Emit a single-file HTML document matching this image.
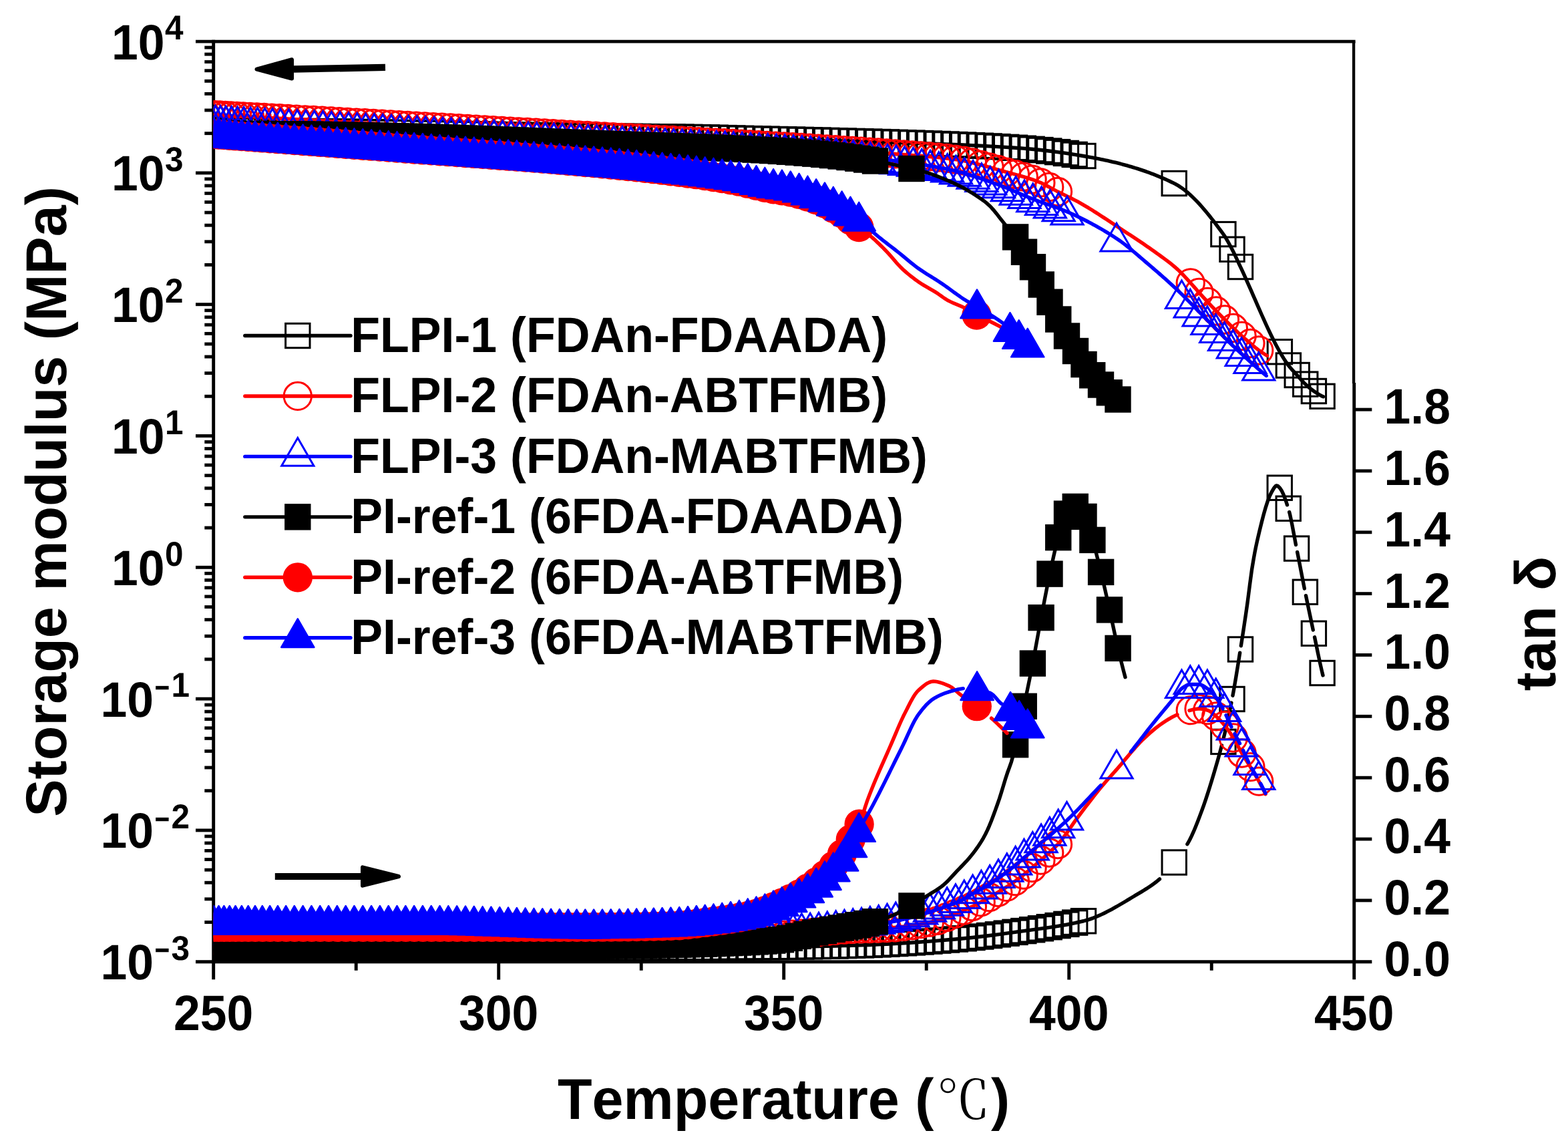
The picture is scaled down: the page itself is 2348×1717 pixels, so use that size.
<!DOCTYPE html>
<html lang="en">
<head>
<meta charset="utf-8">
<title>Storage modulus and tan δ versus temperature</title>
<style>
html,body{margin:0;padding:0;background:#ffffff;}
body{width:2348px;height:1717px;overflow:hidden;}
svg{display:block;}
</style>
</head>
<body>
<svg xmlns="http://www.w3.org/2000/svg" width="2348" height="1717" viewBox="0 0 2348 1717">
<rect width="2348" height="1717" fill="#ffffff"/>
<defs><clipPath id="pc"><rect x="319.7" y="62.1" width="1708.05" height="1377.65"/></clipPath></defs>
<g stroke="#000" stroke-width="4.9" fill="none" stroke-linecap="butt">
<path d="M319.7 59.65L319.7 1466.2"/>
<path d="M293 62.1L2029.6 62.1"/>
<path d="M293 1439.75L2054.35 1439.75"/>
<path d="M2027.1 62.1L2027.1 574" stroke-width="4.3"/>
<path d="M2027.75 573L2027.75 1466.2"/>
<path d="M306.3 199.66L319.7 199.66"/>
<path d="M306.3 165.01L319.7 165.01"/>
<path d="M306.3 140.42L319.7 140.42"/>
<path d="M306.3 121.34L319.7 121.34"/>
<path d="M306.3 105.76L319.7 105.76"/>
<path d="M306.3 92.59L319.7 92.59"/>
<path d="M306.3 81.17L319.7 81.17"/>
<path d="M306.3 71.11L319.7 71.11"/>
<path d="M293 258.91L319.7 258.91"/>
<path d="M306.3 396.47L319.7 396.47"/>
<path d="M306.3 361.81L319.7 361.81"/>
<path d="M306.3 337.22L319.7 337.22"/>
<path d="M306.3 318.15L319.7 318.15"/>
<path d="M306.3 302.57L319.7 302.57"/>
<path d="M306.3 289.39L319.7 289.39"/>
<path d="M306.3 277.98L319.7 277.98"/>
<path d="M306.3 267.91L319.7 267.91"/>
<path d="M293 455.71L319.7 455.71"/>
<path d="M306.3 593.28L319.7 593.28"/>
<path d="M306.3 558.62L319.7 558.62"/>
<path d="M306.3 534.03L319.7 534.03"/>
<path d="M306.3 514.96L319.7 514.96"/>
<path d="M306.3 499.38L319.7 499.38"/>
<path d="M306.3 486.2L319.7 486.2"/>
<path d="M306.3 474.79L319.7 474.79"/>
<path d="M306.3 464.72L319.7 464.72"/>
<path d="M293 652.52L319.7 652.52"/>
<path d="M306.3 790.08L319.7 790.08"/>
<path d="M306.3 755.43L319.7 755.43"/>
<path d="M306.3 730.84L319.7 730.84"/>
<path d="M306.3 711.77L319.7 711.77"/>
<path d="M306.3 696.18L319.7 696.18"/>
<path d="M306.3 683.01L319.7 683.01"/>
<path d="M306.3 671.59L319.7 671.59"/>
<path d="M306.3 661.53L319.7 661.53"/>
<path d="M293 849.33L319.7 849.33"/>
<path d="M306.3 986.89L319.7 986.89"/>
<path d="M306.3 952.23L319.7 952.23"/>
<path d="M306.3 927.65L319.7 927.65"/>
<path d="M306.3 908.57L319.7 908.57"/>
<path d="M306.3 892.99L319.7 892.99"/>
<path d="M306.3 879.81L319.7 879.81"/>
<path d="M306.3 868.4L319.7 868.4"/>
<path d="M306.3 858.33L319.7 858.33"/>
<path d="M293 1046.14L319.7 1046.14"/>
<path d="M306.3 1183.7L319.7 1183.7"/>
<path d="M306.3 1149.04L319.7 1149.04"/>
<path d="M306.3 1124.45L319.7 1124.45"/>
<path d="M306.3 1105.38L319.7 1105.38"/>
<path d="M306.3 1089.8L319.7 1089.8"/>
<path d="M306.3 1076.62L319.7 1076.62"/>
<path d="M306.3 1065.21L319.7 1065.21"/>
<path d="M306.3 1055.14L319.7 1055.14"/>
<path d="M293 1242.94L319.7 1242.94"/>
<path d="M306.3 1380.51L319.7 1380.51"/>
<path d="M306.3 1345.85L319.7 1345.85"/>
<path d="M306.3 1321.26L319.7 1321.26"/>
<path d="M306.3 1302.19L319.7 1302.19"/>
<path d="M306.3 1286.6L319.7 1286.6"/>
<path d="M306.3 1273.43L319.7 1273.43"/>
<path d="M306.3 1262.02L319.7 1262.02"/>
<path d="M306.3 1251.95L319.7 1251.95"/>
<path d="M533.21 1439.75L533.21 1452.75"/>
<path d="M746.71 1439.75L746.71 1466.55"/>
<path d="M960.22 1439.75L960.22 1452.75"/>
<path d="M1173.72 1439.75L1173.72 1466.55"/>
<path d="M1387.23 1439.75L1387.23 1452.75"/>
<path d="M1600.74 1439.75L1600.74 1466.55"/>
<path d="M1814.24 1439.75L1814.24 1452.75"/>
<path d="M2027.75 1347.9L2054.35 1347.9"/>
<path d="M2027.75 1256.05L2054.35 1256.05"/>
<path d="M2027.75 1164.2L2054.35 1164.2"/>
<path d="M2027.75 1072.35L2054.35 1072.35"/>
<path d="M2027.75 980.5L2054.35 980.5"/>
<path d="M2027.75 888.65L2054.35 888.65"/>
<path d="M2027.75 796.8L2054.35 796.8"/>
<path d="M2027.75 704.95L2054.35 704.95"/>
<path d="M2027.75 613.1L2054.35 613.1"/>
</g>
<g clip-path="url(#pc)">
<path d="M293.47 194.67L300.48 194.76L307.49 194.85L314.5 194.93L321.6 195.02L329.13 195.11L337.11 195.2L345.56 195.29L354.49 195.39L363.9 195.49L373.82 195.59L384.23 195.7L395.16 195.81L406.57 195.93L418.46 196.06L430.79 196.19L443.48 196.32L456.29 196.47L469.1 196.61L481.91 196.77L494.72 196.93L507.53 197.1L520.34 197.29L533.15 197.48L545.96 197.68L558.77 197.9L571.58 198.12L584.39 198.34L597.2 198.58L610.01 198.82L622.82 199.06L635.63 199.31L648.44 199.56L661.25 199.82L674.06 200.07L686.87 200.33L699.68 200.58L712.49 200.84L725.3 201.09L738.11 201.34L750.92 201.59L763.73 201.83L776.54 202.07L789.35 202.3L802.16 202.52L814.97 202.74L827.78 202.95L840.59 203.15L853.4 203.34L866.21 203.52L879.02 203.68L891.83 203.83L904.64 203.97L917.45 204.1L930.26 204.22L943.07 204.34L955.88 204.47L968.69 204.59L981.5 204.73L994.31 204.87L1007.12 205.02L1019.93 205.19L1032.74 205.38L1045.55 205.6L1058.36 205.88L1071.17 206.2L1083.98 206.56L1096.79 206.92L1109.6 207.26L1122.41 207.58L1135.22 207.89L1148.03 208.18L1160.84 208.48L1173.65 208.77L1186.46 209.07L1199.27 209.37L1212.08 209.68L1224.89 210L1237.7 210.34L1250.51 210.69L1263.32 211.04L1276.13 211.39L1288.94 211.75L1301.75 212.11L1314.56 212.49L1327.37 212.87L1340.18 213.27L1352.99 213.68L1365.8 214.1L1378.61 214.54L1391.42 215L1404.23 215.47L1417.04 215.97L1429.85 216.49L1442.66 217.04L1455.47 217.61L1468.28 218.21L1481.09 218.87L1493.9 219.58L1506.71 220.36L1519.52 221.23L1532.33 222.18L1545.14 223.29L1557.95 224.56L1570.76 226.01L1583.57 227.63L1596.38 229.42L1609.19 231.38L1622 233.5L1625 234.02L1628 234.55L1631 235.09L1634 235.64L1637 236.2L1640 236.77L1643 237.36L1646 237.95L1649 238.56L1652 239.19L1655 239.82L1658 240.48L1661 241.14L1664 241.83L1667 242.53L1670 243.24L1673 243.98L1676 244.73L1679 245.5L1682 246.29L1685 247.1L1688 247.93L1691 248.78L1694 249.66L1697 250.55L1700 251.47L1703 252.41L1706 253.37L1709 254.36L1712 255.37L1715 256.41L1718 257.47L1721 258.56L1724 259.68L1727 260.82L1730 261.99L1733 263.19L1736 264.42L1739 265.68L1742 266.97L1745 268.29L1748 269.64L1751 271.02L1754 272.44L1757 273.89L1760 275.39L1763 277.06L1766 278.91L1769 280.91L1772 283.08L1775 285.4L1778 287.87L1781 290.48L1784 293.23L1787 296.1L1790 299.1L1793 302.22L1796 305.45L1799 308.78L1802 312.21L1805 315.74L1808 319.36L1811 323.06L1814 326.83L1817 330.67L1820 334.58L1823 338.55L1826 342.57L1829 346.63L1832 350.74L1835 355.22L1838 360.27L1841 365.71L1844 371.35L1847 377.16L1850 383.36L1853 389.8L1856 396.29L1859 402.7L1862 409.21L1865 415.83L1868 422.54L1871 429.33L1874 436.17L1877 443.05L1880 449.94L1883 456.82L1886 463.67L1889 470.47L1892 477.2L1895 483.83L1898 490.36L1901 496.75L1904 502.99L1907 509.06L1910 514.93L1913 520.58L1916 526L1919 531.18L1922 536.14L1925 540.8L1928 545.12L1931 549.03L1934 552.56L1937 555.84L1940 559.05L1943 562.34L1946 565.74L1949 569.13L1952 572.37L1955 575.33L1958 578.05L1961 580.61L1964 583L1967 585.22L1970 587.3L1973 589.29L1976 591.12L1979 592.73L1981.5 593.82" fill="none" stroke="#000000" stroke-width="5.4" stroke-linecap="round" stroke-linejoin="round"/>
<g fill="none" stroke="#000000" stroke-width="3" stroke-linejoin="miter">
<rect x="275.27" y="176.47" width="36.4" height="36.4"/>
<rect x="282.28" y="176.56" width="36.4" height="36.4"/>
<rect x="289.29" y="176.65" width="36.4" height="36.4"/>
<rect x="296.3" y="176.73" width="36.4" height="36.4"/>
<rect x="303.4" y="176.82" width="36.4" height="36.4"/>
<rect x="310.93" y="176.91" width="36.4" height="36.4"/>
<rect x="318.91" y="177" width="36.4" height="36.4"/>
<rect x="327.36" y="177.09" width="36.4" height="36.4"/>
<rect x="336.29" y="177.19" width="36.4" height="36.4"/>
<rect x="345.7" y="177.29" width="36.4" height="36.4"/>
<rect x="355.62" y="177.39" width="36.4" height="36.4"/>
<rect x="366.03" y="177.5" width="36.4" height="36.4"/>
<rect x="376.96" y="177.61" width="36.4" height="36.4"/>
<rect x="388.37" y="177.73" width="36.4" height="36.4"/>
<rect x="400.26" y="177.86" width="36.4" height="36.4"/>
<rect x="412.59" y="177.99" width="36.4" height="36.4"/>
<rect x="425.28" y="178.12" width="36.4" height="36.4"/>
<rect x="438.09" y="178.27" width="36.4" height="36.4"/>
<rect x="450.9" y="178.41" width="36.4" height="36.4"/>
<rect x="463.71" y="178.57" width="36.4" height="36.4"/>
<rect x="476.52" y="178.73" width="36.4" height="36.4"/>
<rect x="489.33" y="178.9" width="36.4" height="36.4"/>
<rect x="502.14" y="179.09" width="36.4" height="36.4"/>
<rect x="514.95" y="179.28" width="36.4" height="36.4"/>
<rect x="527.76" y="179.48" width="36.4" height="36.4"/>
<rect x="540.57" y="179.7" width="36.4" height="36.4"/>
<rect x="553.38" y="179.92" width="36.4" height="36.4"/>
<rect x="566.19" y="180.14" width="36.4" height="36.4"/>
<rect x="579" y="180.38" width="36.4" height="36.4"/>
<rect x="591.81" y="180.62" width="36.4" height="36.4"/>
<rect x="604.62" y="180.86" width="36.4" height="36.4"/>
<rect x="617.43" y="181.11" width="36.4" height="36.4"/>
<rect x="630.24" y="181.36" width="36.4" height="36.4"/>
<rect x="643.05" y="181.62" width="36.4" height="36.4"/>
<rect x="655.86" y="181.87" width="36.4" height="36.4"/>
<rect x="668.67" y="182.13" width="36.4" height="36.4"/>
<rect x="681.48" y="182.38" width="36.4" height="36.4"/>
<rect x="694.29" y="182.64" width="36.4" height="36.4"/>
<rect x="707.1" y="182.89" width="36.4" height="36.4"/>
<rect x="719.91" y="183.14" width="36.4" height="36.4"/>
<rect x="732.72" y="183.39" width="36.4" height="36.4"/>
<rect x="745.53" y="183.63" width="36.4" height="36.4"/>
<rect x="758.34" y="183.87" width="36.4" height="36.4"/>
<rect x="771.15" y="184.1" width="36.4" height="36.4"/>
<rect x="783.96" y="184.32" width="36.4" height="36.4"/>
<rect x="796.77" y="184.54" width="36.4" height="36.4"/>
<rect x="809.58" y="184.75" width="36.4" height="36.4"/>
<rect x="822.39" y="184.95" width="36.4" height="36.4"/>
<rect x="835.2" y="185.14" width="36.4" height="36.4"/>
<rect x="848.01" y="185.32" width="36.4" height="36.4"/>
<rect x="860.82" y="185.48" width="36.4" height="36.4"/>
<rect x="873.63" y="185.63" width="36.4" height="36.4"/>
<rect x="886.44" y="185.77" width="36.4" height="36.4"/>
<rect x="899.25" y="185.9" width="36.4" height="36.4"/>
<rect x="912.06" y="186.02" width="36.4" height="36.4"/>
<rect x="924.87" y="186.14" width="36.4" height="36.4"/>
<rect x="937.68" y="186.27" width="36.4" height="36.4"/>
<rect x="950.49" y="186.39" width="36.4" height="36.4"/>
<rect x="963.3" y="186.53" width="36.4" height="36.4"/>
<rect x="976.11" y="186.67" width="36.4" height="36.4"/>
<rect x="988.92" y="186.82" width="36.4" height="36.4"/>
<rect x="1001.73" y="186.99" width="36.4" height="36.4"/>
<rect x="1014.54" y="187.18" width="36.4" height="36.4"/>
<rect x="1027.35" y="187.4" width="36.4" height="36.4"/>
<rect x="1040.16" y="187.68" width="36.4" height="36.4"/>
<rect x="1052.97" y="188" width="36.4" height="36.4"/>
<rect x="1065.78" y="188.36" width="36.4" height="36.4"/>
<rect x="1078.59" y="188.72" width="36.4" height="36.4"/>
<rect x="1091.4" y="189.06" width="36.4" height="36.4"/>
<rect x="1104.21" y="189.38" width="36.4" height="36.4"/>
<rect x="1117.02" y="189.69" width="36.4" height="36.4"/>
<rect x="1129.83" y="189.98" width="36.4" height="36.4"/>
<rect x="1142.64" y="190.28" width="36.4" height="36.4"/>
<rect x="1155.45" y="190.57" width="36.4" height="36.4"/>
<rect x="1168.26" y="190.87" width="36.4" height="36.4"/>
<rect x="1181.07" y="191.17" width="36.4" height="36.4"/>
<rect x="1193.88" y="191.48" width="36.4" height="36.4"/>
<rect x="1206.69" y="191.8" width="36.4" height="36.4"/>
<rect x="1219.5" y="192.14" width="36.4" height="36.4"/>
<rect x="1232.31" y="192.49" width="36.4" height="36.4"/>
<rect x="1245.12" y="192.84" width="36.4" height="36.4"/>
<rect x="1257.93" y="193.19" width="36.4" height="36.4"/>
<rect x="1270.74" y="193.55" width="36.4" height="36.4"/>
<rect x="1283.55" y="193.91" width="36.4" height="36.4"/>
<rect x="1296.36" y="194.29" width="36.4" height="36.4"/>
<rect x="1309.17" y="194.67" width="36.4" height="36.4"/>
<rect x="1321.98" y="195.07" width="36.4" height="36.4"/>
<rect x="1334.79" y="195.48" width="36.4" height="36.4"/>
<rect x="1347.6" y="195.9" width="36.4" height="36.4"/>
<rect x="1360.41" y="196.34" width="36.4" height="36.4"/>
<rect x="1373.22" y="196.8" width="36.4" height="36.4"/>
<rect x="1386.03" y="197.27" width="36.4" height="36.4"/>
<rect x="1398.84" y="197.77" width="36.4" height="36.4"/>
<rect x="1411.65" y="198.29" width="36.4" height="36.4"/>
<rect x="1424.46" y="198.84" width="36.4" height="36.4"/>
<rect x="1437.27" y="199.41" width="36.4" height="36.4"/>
<rect x="1450.08" y="200.01" width="36.4" height="36.4"/>
<rect x="1462.89" y="200.67" width="36.4" height="36.4"/>
<rect x="1475.7" y="201.38" width="36.4" height="36.4"/>
<rect x="1488.51" y="202.16" width="36.4" height="36.4"/>
<rect x="1501.32" y="203.03" width="36.4" height="36.4"/>
<rect x="1514.13" y="203.98" width="36.4" height="36.4"/>
<rect x="1526.94" y="205.09" width="36.4" height="36.4"/>
<rect x="1539.75" y="206.36" width="36.4" height="36.4"/>
<rect x="1552.56" y="207.81" width="36.4" height="36.4"/>
<rect x="1565.37" y="209.43" width="36.4" height="36.4"/>
<rect x="1578.18" y="211.22" width="36.4" height="36.4"/>
<rect x="1590.99" y="213.18" width="36.4" height="36.4"/>
<rect x="1603.8" y="215.3" width="36.4" height="36.4"/>
<rect x="1740.05" y="256.3" width="36.4" height="36.4"/>
<rect x="1813.7" y="332.4" width="36.4" height="36.4"/>
<rect x="1826.8" y="355.05" width="36.4" height="36.4"/>
<rect x="1839.3" y="381.3" width="36.4" height="36.4"/>
<rect x="1898.2" y="508.5" width="36.4" height="36.4"/>
<rect x="1911.2" y="528.8" width="36.4" height="36.4"/>
<rect x="1924.05" y="543.3" width="36.4" height="36.4"/>
<rect x="1936.55" y="556.9" width="36.4" height="36.4"/>
<rect x="1949.2" y="567.3" width="36.4" height="36.4"/>
<rect x="1961.9" y="575.05" width="36.4" height="36.4"/>
</g>
<path d="M293.7 170.68L300.71 171.02L307.72 171.37L314.73 171.73L321.84 172.1L329.39 172.49L337.39 172.9L345.85 173.35L354.79 173.82L364.23 174.32L374.16 174.84L384.59 175.4L395.53 175.98L406.96 176.6L418.87 177.24L431.21 177.91L443.91 178.6L456.72 179.3L469.53 180.01L482.34 180.71L495.15 181.42L507.96 182.13L520.77 182.84L533.58 183.56L546.39 184.27L559.2 184.99L572.01 185.71L584.82 186.43L597.63 187.15L610.44 187.87L623.25 188.6L636.06 189.32L648.87 190.05L661.68 190.77L674.49 191.5L687.3 192.22L700.11 192.95L712.92 193.67L725.73 194.4L738.54 195.12L751.35 195.84L764.16 196.57L776.97 197.29L789.78 198.01L802.59 198.72L815.4 199.44L828.21 200.16L841.02 200.87L853.83 201.58L866.64 202.29L879.45 203L892.26 203.7L905.07 204.4L917.88 205.1L930.69 205.8L943.5 206.49L956.31 207.19L969.12 207.89L981.93 208.58L994.74 209.28L1007.55 209.98L1020.36 210.68L1033.17 211.39L1045.98 212.1L1058.79 212.81L1071.6 213.53L1084.41 214.25L1097.22 214.98L1110.03 215.71L1122.84 216.45L1135.65 217.19L1148.46 217.94L1161.27 218.69L1174.08 219.44L1186.89 220.2L1199.7 220.98L1212.51 221.76L1225.32 222.56L1238.13 223.38L1250.94 224.21L1263.75 225.03L1276.56 225.87L1289.37 226.71L1302.18 227.58L1314.99 228.46L1327.8 229.38L1340.61 230.33L1353.42 231.32L1366.23 232.35L1379.04 233.38L1391.85 234.44L1404.66 235.6L1417.47 236.94L1430.28 238.54L1443.09 240.7L1455.9 243.52L1468.71 246.8L1481.52 250.37L1494.33 254.02L1507.14 257.58L1519.95 261L1532.76 264.57L1545.57 268.58L1558.38 273.41L1571.19 280L1584 287L1587 288.51L1590 289.99L1593 291.44L1596 292.89L1599 294.34L1602 295.8L1605 297.28L1608 298.79L1611 300.35L1614 301.95L1617 303.61L1620 305.31L1623 307.05L1626 308.82L1629 310.62L1632 312.45L1635 314.31L1638 316.19L1641 318.1L1644 320.02L1647 321.96L1650 323.91L1653 325.88L1656 327.86L1659 329.85L1662 331.84L1665 333.83L1668 335.82L1671 337.81L1674 339.8L1677 341.78L1680 343.75L1683 345.71L1686 347.68L1689 349.64L1692 351.61L1695 353.58L1698 355.56L1701 357.54L1704 359.54L1707 361.54L1710 363.56L1713 365.6L1716 367.65L1719 369.72L1722 371.81L1725 373.92L1728 376.06L1731 378.22L1734 380.38L1737 382.54L1740 384.7L1743 386.89L1746 389.12L1749 391.39L1752 393.72L1755 396.12L1758 398.6L1761 401.17L1764 403.87L1767 406.74L1770 409.77L1773 412.91L1776 416.14L1779 419.41L1782 422.68L1785 425.98L1788 429.38L1791 432.83L1794 436.25L1797 439.6L1800 442.91L1803 446.19L1806 449.45L1809 452.68L1812 455.88L1815 459.05L1818 462.2L1821 465.31L1824 468.4L1827 471.47L1830 474.5L1833 477.51L1836 480.49L1839 483.45L1842 486.38L1845 489.27L1848 492.15L1851 495.01L1854 497.84L1857 500.63L1860 503.35L1863 505.99L1866 508.58L1869 511.12L1872 513.65L1875 516.19L1878 518.74L1881 521.23L1884 523.59L1887 525.77L1890 527.83L1893 529.79L1897.5 532.5" fill="none" stroke="#ff0000" stroke-width="5.4" stroke-linecap="round" stroke-linejoin="round"/>
<g fill="none" stroke="#ff0000" stroke-width="3" stroke-linejoin="miter">
<circle cx="293.7" cy="170.68" r="20.65"/>
<circle cx="300.71" cy="171.02" r="20.65"/>
<circle cx="307.72" cy="171.37" r="20.65"/>
<circle cx="314.73" cy="171.73" r="20.65"/>
<circle cx="321.84" cy="172.1" r="20.65"/>
<circle cx="329.39" cy="172.49" r="20.65"/>
<circle cx="337.39" cy="172.9" r="20.65"/>
<circle cx="345.85" cy="173.35" r="20.65"/>
<circle cx="354.79" cy="173.82" r="20.65"/>
<circle cx="364.23" cy="174.32" r="20.65"/>
<circle cx="374.16" cy="174.84" r="20.65"/>
<circle cx="384.59" cy="175.4" r="20.65"/>
<circle cx="395.53" cy="175.98" r="20.65"/>
<circle cx="406.96" cy="176.6" r="20.65"/>
<circle cx="418.87" cy="177.24" r="20.65"/>
<circle cx="431.21" cy="177.91" r="20.65"/>
<circle cx="443.91" cy="178.6" r="20.65"/>
<circle cx="456.72" cy="179.3" r="20.65"/>
<circle cx="469.53" cy="180.01" r="20.65"/>
<circle cx="482.34" cy="180.71" r="20.65"/>
<circle cx="495.15" cy="181.42" r="20.65"/>
<circle cx="507.96" cy="182.13" r="20.65"/>
<circle cx="520.77" cy="182.84" r="20.65"/>
<circle cx="533.58" cy="183.56" r="20.65"/>
<circle cx="546.39" cy="184.27" r="20.65"/>
<circle cx="559.2" cy="184.99" r="20.65"/>
<circle cx="572.01" cy="185.71" r="20.65"/>
<circle cx="584.82" cy="186.43" r="20.65"/>
<circle cx="597.63" cy="187.15" r="20.65"/>
<circle cx="610.44" cy="187.87" r="20.65"/>
<circle cx="623.25" cy="188.6" r="20.65"/>
<circle cx="636.06" cy="189.32" r="20.65"/>
<circle cx="648.87" cy="190.05" r="20.65"/>
<circle cx="661.68" cy="190.77" r="20.65"/>
<circle cx="674.49" cy="191.5" r="20.65"/>
<circle cx="687.3" cy="192.22" r="20.65"/>
<circle cx="700.11" cy="192.95" r="20.65"/>
<circle cx="712.92" cy="193.67" r="20.65"/>
<circle cx="725.73" cy="194.4" r="20.65"/>
<circle cx="738.54" cy="195.12" r="20.65"/>
<circle cx="751.35" cy="195.84" r="20.65"/>
<circle cx="764.16" cy="196.57" r="20.65"/>
<circle cx="776.97" cy="197.29" r="20.65"/>
<circle cx="789.78" cy="198.01" r="20.65"/>
<circle cx="802.59" cy="198.72" r="20.65"/>
<circle cx="815.4" cy="199.44" r="20.65"/>
<circle cx="828.21" cy="200.16" r="20.65"/>
<circle cx="841.02" cy="200.87" r="20.65"/>
<circle cx="853.83" cy="201.58" r="20.65"/>
<circle cx="866.64" cy="202.29" r="20.65"/>
<circle cx="879.45" cy="203" r="20.65"/>
<circle cx="892.26" cy="203.7" r="20.65"/>
<circle cx="905.07" cy="204.4" r="20.65"/>
<circle cx="917.88" cy="205.1" r="20.65"/>
<circle cx="930.69" cy="205.8" r="20.65"/>
<circle cx="943.5" cy="206.49" r="20.65"/>
<circle cx="956.31" cy="207.19" r="20.65"/>
<circle cx="969.12" cy="207.89" r="20.65"/>
<circle cx="981.93" cy="208.58" r="20.65"/>
<circle cx="994.74" cy="209.28" r="20.65"/>
<circle cx="1007.55" cy="209.98" r="20.65"/>
<circle cx="1020.36" cy="210.68" r="20.65"/>
<circle cx="1033.17" cy="211.39" r="20.65"/>
<circle cx="1045.98" cy="212.1" r="20.65"/>
<circle cx="1058.79" cy="212.81" r="20.65"/>
<circle cx="1071.6" cy="213.53" r="20.65"/>
<circle cx="1084.41" cy="214.25" r="20.65"/>
<circle cx="1097.22" cy="214.98" r="20.65"/>
<circle cx="1110.03" cy="215.71" r="20.65"/>
<circle cx="1122.84" cy="216.45" r="20.65"/>
<circle cx="1135.65" cy="217.19" r="20.65"/>
<circle cx="1148.46" cy="217.94" r="20.65"/>
<circle cx="1161.27" cy="218.69" r="20.65"/>
<circle cx="1174.08" cy="219.44" r="20.65"/>
<circle cx="1186.89" cy="220.2" r="20.65"/>
<circle cx="1199.7" cy="220.98" r="20.65"/>
<circle cx="1212.51" cy="221.76" r="20.65"/>
<circle cx="1225.32" cy="222.56" r="20.65"/>
<circle cx="1238.13" cy="223.38" r="20.65"/>
<circle cx="1250.94" cy="224.21" r="20.65"/>
<circle cx="1263.75" cy="225.03" r="20.65"/>
<circle cx="1276.56" cy="225.87" r="20.65"/>
<circle cx="1289.37" cy="226.71" r="20.65"/>
<circle cx="1302.18" cy="227.58" r="20.65"/>
<circle cx="1314.99" cy="228.46" r="20.65"/>
<circle cx="1327.8" cy="229.38" r="20.65"/>
<circle cx="1340.61" cy="230.33" r="20.65"/>
<circle cx="1353.42" cy="231.32" r="20.65"/>
<circle cx="1366.23" cy="232.35" r="20.65"/>
<circle cx="1379.04" cy="233.38" r="20.65"/>
<circle cx="1391.85" cy="234.44" r="20.65"/>
<circle cx="1404.66" cy="235.6" r="20.65"/>
<circle cx="1417.47" cy="236.94" r="20.65"/>
<circle cx="1430.28" cy="238.54" r="20.65"/>
<circle cx="1443.09" cy="240.7" r="20.65"/>
<circle cx="1455.9" cy="243.52" r="20.65"/>
<circle cx="1468.71" cy="246.8" r="20.65"/>
<circle cx="1481.52" cy="250.37" r="20.65"/>
<circle cx="1494.33" cy="254.02" r="20.65"/>
<circle cx="1507.14" cy="257.58" r="20.65"/>
<circle cx="1519.95" cy="261" r="20.65"/>
<circle cx="1532.76" cy="264.57" r="20.65"/>
<circle cx="1545.57" cy="268.58" r="20.65"/>
<circle cx="1558.38" cy="273.41" r="20.65"/>
<circle cx="1571.19" cy="280" r="20.65"/>
<circle cx="1584" cy="287" r="20.65"/>
<circle cx="1782.75" cy="423.5" r="20.65"/>
<circle cx="1795.56" cy="438" r="20.65"/>
<circle cx="1808.37" cy="452" r="20.65"/>
<circle cx="1821.18" cy="465.5" r="20.65"/>
<circle cx="1833.99" cy="478.5" r="20.65"/>
<circle cx="1846.8" cy="491" r="20.65"/>
<circle cx="1859.61" cy="503" r="20.65"/>
<circle cx="1872.42" cy="514" r="20.65"/>
<circle cx="1885.23" cy="524.5" r="20.65"/>
</g>
<path d="M294.34 179.71L301.35 180.06L308.36 180.41L315.37 180.77L322.52 181.13L330.11 181.51L338.15 181.93L346.66 182.36L355.65 182.82L365.13 183.31L375.1 183.83L385.58 184.37L396.57 184.94L408.05 185.54L419.99 186.17L432.37 186.82L445.1 187.49L457.91 188.17L470.72 188.84L483.53 189.52L496.34 190.2L509.15 190.89L521.96 191.57L534.77 192.25L547.58 192.93L560.39 193.62L573.2 194.3L586.01 194.99L598.82 195.67L611.63 196.35L624.44 197.03L637.25 197.72L650.06 198.4L662.87 199.08L675.68 199.75L688.49 200.43L701.3 201.1L714.11 201.78L726.92 202.45L739.73 203.12L752.54 203.78L765.35 204.45L778.16 205.11L790.97 205.77L803.78 206.42L816.59 207.07L829.4 207.72L842.21 208.36L855.02 209L867.83 209.64L880.64 210.27L893.45 210.88L906.26 211.48L919.07 212.08L931.88 212.67L944.69 213.25L957.5 213.83L970.31 214.41L983.12 214.99L995.93 215.58L1008.74 216.16L1021.55 216.76L1034.36 217.36L1047.17 217.97L1059.98 218.59L1072.79 219.23L1085.6 219.88L1098.41 220.54L1111.22 221.23L1124.03 221.93L1136.84 222.62L1149.65 223.32L1162.46 224.05L1175.27 224.8L1188.08 225.6L1200.89 226.44L1213.7 227.34L1226.51 228.32L1239.32 229.41L1252.13 230.63L1264.94 231.95L1277.75 233.35L1290.56 234.82L1303.37 236.32L1316.18 237.85L1328.99 239.38L1341.8 240.91L1354.61 242.5L1367.42 244.27L1380.23 246.22L1393.04 248.32L1405.85 250.63L1418.66 253.19L1431.47 256.05L1444.28 259.43L1457.09 263.35L1469.9 267.65L1482.71 272.18L1495.52 276.81L1508.33 281.85L1521.14 287.23L1533.95 292.68L1546.76 297.91L1559.57 302.67L1572.38 307.18L1585.19 311.82L1598 317L1601 318.32L1604 319.66L1607 321.02L1610 322.41L1613 323.83L1616 325.26L1619 326.72L1622 328.21L1625 329.72L1628 331.26L1631 332.82L1634 334.41L1637 336.03L1640 337.67L1643 339.34L1646 341.04L1649 342.77L1652 344.53L1655 346.31L1658 348.13L1661 349.97L1664 351.85L1667 353.75L1670 355.69L1673 357.66L1676 359.72L1679 361.87L1682 364.1L1685 366.41L1688 368.78L1691 371.21L1694 373.68L1697 376.2L1700 378.75L1703 381.32L1706 383.9L1709 386.48L1712 389.06L1715 391.63L1718 394.17L1721 396.72L1724 399.27L1727 401.84L1730 404.43L1733 407.03L1736 409.64L1739 412.28L1742 414.93L1745 417.61L1748 420.31L1751 423.02L1754 425.77L1757 428.53L1760 431.33L1763 434.15L1766 437.02L1769 439.93L1772 442.88L1775 445.86L1778 448.86L1781 451.89L1784 454.93L1787 457.99L1790 461.05L1793 464.11L1796 467.16L1799 470.21L1802 473.24L1805 476.25L1808 479.26L1811 482.29L1814 485.33L1817 488.38L1820 491.44L1823 494.49L1826 497.54L1829 500.58L1832 503.6L1835 506.6L1838 509.59L1841 512.54L1844 515.46L1847 518.34L1850 521.18L1853 524L1856 526.8L1859 529.58L1862 532.35L1865 535.09L1868 537.82L1871 540.53L1874 543.22L1877 545.88L1880 548.53L1883 551.16L1886 553.76L1889 556.35L1892 558.91L1896.25 562.5" fill="none" stroke="#0000ff" stroke-width="5.4" stroke-linecap="round" stroke-linejoin="round"/>
<g fill="none" stroke="#0000ff" stroke-width="3" stroke-linejoin="miter">
<path d="M294.34 156.91L318.41 198.61L270.26 198.61Z"/>
<path d="M301.35 157.26L325.42 198.96L277.27 198.96Z"/>
<path d="M308.36 157.61L332.43 199.31L284.28 199.31Z"/>
<path d="M315.37 157.97L339.44 199.67L291.29 199.67Z"/>
<path d="M322.52 158.33L346.6 200.03L298.45 200.03Z"/>
<path d="M330.11 158.71L354.19 200.41L306.04 200.41Z"/>
<path d="M338.15 159.13L362.23 200.83L314.08 200.83Z"/>
<path d="M346.66 159.56L370.74 201.26L322.59 201.26Z"/>
<path d="M355.65 160.02L379.72 201.72L331.57 201.72Z"/>
<path d="M365.13 160.51L389.2 202.21L341.05 202.21Z"/>
<path d="M375.1 161.03L399.18 202.73L351.03 202.73Z"/>
<path d="M385.58 161.57L409.66 203.27L361.51 203.27Z"/>
<path d="M396.57 162.14L420.64 203.84L372.49 203.84Z"/>
<path d="M408.05 162.74L432.12 204.44L383.97 204.44Z"/>
<path d="M419.99 163.37L444.07 205.07L395.92 205.07Z"/>
<path d="M432.37 164.02L456.45 205.72L408.3 205.72Z"/>
<path d="M445.1 164.69L469.18 206.39L421.02 206.39Z"/>
<path d="M457.91 165.37L481.99 207.07L433.83 207.07Z"/>
<path d="M470.72 166.04L494.8 207.74L446.64 207.74Z"/>
<path d="M483.53 166.72L507.61 208.42L459.45 208.42Z"/>
<path d="M496.34 167.4L520.42 209.1L472.26 209.1Z"/>
<path d="M509.15 168.09L533.23 209.79L485.07 209.79Z"/>
<path d="M521.96 168.77L546.04 210.47L497.88 210.47Z"/>
<path d="M534.77 169.45L558.85 211.15L510.69 211.15Z"/>
<path d="M547.58 170.13L571.66 211.83L523.5 211.83Z"/>
<path d="M560.39 170.82L584.47 212.52L536.31 212.52Z"/>
<path d="M573.2 171.5L597.28 213.2L549.12 213.2Z"/>
<path d="M586.01 172.19L610.09 213.89L561.93 213.89Z"/>
<path d="M598.82 172.87L622.9 214.57L574.74 214.57Z"/>
<path d="M611.63 173.55L635.71 215.25L587.55 215.25Z"/>
<path d="M624.44 174.23L648.52 215.93L600.36 215.93Z"/>
<path d="M637.25 174.92L661.33 216.62L613.17 216.62Z"/>
<path d="M650.06 175.6L674.14 217.3L625.98 217.3Z"/>
<path d="M662.87 176.28L686.95 217.98L638.79 217.98Z"/>
<path d="M675.68 176.95L699.76 218.65L651.6 218.65Z"/>
<path d="M688.49 177.63L712.57 219.33L664.41 219.33Z"/>
<path d="M701.3 178.3L725.38 220L677.22 220Z"/>
<path d="M714.11 178.98L738.19 220.68L690.03 220.68Z"/>
<path d="M726.92 179.65L751 221.35L702.84 221.35Z"/>
<path d="M739.73 180.32L763.81 222.02L715.65 222.02Z"/>
<path d="M752.54 180.98L776.62 222.68L728.46 222.68Z"/>
<path d="M765.35 181.65L789.43 223.35L741.27 223.35Z"/>
<path d="M778.16 182.31L802.24 224.01L754.08 224.01Z"/>
<path d="M790.97 182.97L815.05 224.67L766.89 224.67Z"/>
<path d="M803.78 183.62L827.86 225.32L779.7 225.32Z"/>
<path d="M816.59 184.27L840.67 225.97L792.51 225.97Z"/>
<path d="M829.4 184.92L853.48 226.62L805.32 226.62Z"/>
<path d="M842.21 185.56L866.29 227.26L818.13 227.26Z"/>
<path d="M855.02 186.2L879.1 227.9L830.94 227.9Z"/>
<path d="M867.83 186.84L891.91 228.54L843.75 228.54Z"/>
<path d="M880.64 187.47L904.72 229.17L856.56 229.17Z"/>
<path d="M893.45 188.08L917.53 229.78L869.37 229.78Z"/>
<path d="M906.26 188.68L930.34 230.38L882.18 230.38Z"/>
<path d="M919.07 189.28L943.15 230.98L894.99 230.98Z"/>
<path d="M931.88 189.87L955.96 231.57L907.8 231.57Z"/>
<path d="M944.69 190.45L968.77 232.15L920.61 232.15Z"/>
<path d="M957.5 191.03L981.58 232.73L933.42 232.73Z"/>
<path d="M970.31 191.61L994.39 233.31L946.23 233.31Z"/>
<path d="M983.12 192.19L1007.2 233.89L959.04 233.89Z"/>
<path d="M995.93 192.78L1020.01 234.48L971.85 234.48Z"/>
<path d="M1008.74 193.36L1032.82 235.06L984.66 235.06Z"/>
<path d="M1021.55 193.96L1045.63 235.66L997.47 235.66Z"/>
<path d="M1034.36 194.56L1058.44 236.26L1010.28 236.26Z"/>
<path d="M1047.17 195.17L1071.25 236.87L1023.09 236.87Z"/>
<path d="M1059.98 195.79L1084.06 237.49L1035.9 237.49Z"/>
<path d="M1072.79 196.43L1096.87 238.13L1048.71 238.13Z"/>
<path d="M1085.6 197.08L1109.68 238.78L1061.52 238.78Z"/>
<path d="M1098.41 197.74L1122.49 239.44L1074.33 239.44Z"/>
<path d="M1111.22 198.43L1135.3 240.13L1087.14 240.13Z"/>
<path d="M1124.03 199.13L1148.11 240.83L1099.95 240.83Z"/>
<path d="M1136.84 199.82L1160.92 241.52L1112.76 241.52Z"/>
<path d="M1149.65 200.52L1173.73 242.22L1125.57 242.22Z"/>
<path d="M1162.46 201.25L1186.54 242.95L1138.38 242.95Z"/>
<path d="M1175.27 202L1199.35 243.7L1151.19 243.7Z"/>
<path d="M1188.08 202.8L1212.16 244.5L1164 244.5Z"/>
<path d="M1200.89 203.64L1224.97 245.34L1176.81 245.34Z"/>
<path d="M1213.7 204.54L1237.78 246.24L1189.62 246.24Z"/>
<path d="M1226.51 205.52L1250.59 247.22L1202.43 247.22Z"/>
<path d="M1239.32 206.61L1263.4 248.31L1215.24 248.31Z"/>
<path d="M1252.13 207.83L1276.21 249.53L1228.05 249.53Z"/>
<path d="M1264.94 209.15L1289.02 250.85L1240.86 250.85Z"/>
<path d="M1277.75 210.55L1301.83 252.25L1253.67 252.25Z"/>
<path d="M1290.56 212.02L1314.64 253.72L1266.48 253.72Z"/>
<path d="M1303.37 213.52L1327.45 255.22L1279.29 255.22Z"/>
<path d="M1316.18 215.05L1340.26 256.75L1292.1 256.75Z"/>
<path d="M1328.99 216.58L1353.07 258.28L1304.91 258.28Z"/>
<path d="M1341.8 218.11L1365.88 259.81L1317.72 259.81Z"/>
<path d="M1354.61 219.7L1378.69 261.4L1330.53 261.4Z"/>
<path d="M1367.42 221.47L1391.5 263.17L1343.34 263.17Z"/>
<path d="M1380.23 223.42L1404.31 265.12L1356.15 265.12Z"/>
<path d="M1393.04 225.52L1417.12 267.22L1368.96 267.22Z"/>
<path d="M1405.85 227.83L1429.93 269.53L1381.77 269.53Z"/>
<path d="M1418.66 230.39L1442.74 272.09L1394.58 272.09Z"/>
<path d="M1431.47 233.25L1455.55 274.95L1407.39 274.95Z"/>
<path d="M1444.28 236.63L1468.36 278.33L1420.2 278.33Z"/>
<path d="M1457.09 240.55L1481.17 282.25L1433.01 282.25Z"/>
<path d="M1469.9 244.85L1493.98 286.55L1445.82 286.55Z"/>
<path d="M1482.71 249.38L1506.79 291.08L1458.63 291.08Z"/>
<path d="M1495.52 254.01L1519.6 295.71L1471.44 295.71Z"/>
<path d="M1508.33 259.05L1532.41 300.75L1484.25 300.75Z"/>
<path d="M1521.14 264.43L1545.22 306.13L1497.06 306.13Z"/>
<path d="M1533.95 269.88L1558.03 311.58L1509.87 311.58Z"/>
<path d="M1546.76 275.11L1570.84 316.81L1522.68 316.81Z"/>
<path d="M1559.57 279.87L1583.65 321.57L1535.49 321.57Z"/>
<path d="M1572.38 284.38L1596.46 326.08L1548.3 326.08Z"/>
<path d="M1585.19 289.02L1609.27 330.72L1561.11 330.72Z"/>
<path d="M1598 294.2L1622.08 335.9L1573.92 335.9Z"/>
<path d="M1672 334.2L1696.08 375.9L1647.92 375.9Z"/>
<path d="M1769.5 419.9L1793.58 461.6L1745.42 461.6Z"/>
<path d="M1782.31 433.2L1806.39 474.9L1758.23 474.9Z"/>
<path d="M1795.12 446.2L1819.2 487.9L1771.04 487.9Z"/>
<path d="M1807.93 458.7L1832.01 500.4L1783.85 500.4Z"/>
<path d="M1820.74 470.7L1844.82 512.4L1796.66 512.4Z"/>
<path d="M1833.55 482.7L1857.63 524.4L1809.47 524.4Z"/>
<path d="M1846.36 494.2L1870.44 535.9L1822.28 535.9Z"/>
<path d="M1859.17 505.7L1883.25 547.4L1835.09 547.4Z"/>
<path d="M1871.98 516.7L1896.06 558.4L1847.9 558.4Z"/>
<path d="M1884.79 527.4L1908.87 569.1L1860.71 569.1Z"/>
</g>
<path d="M291.26 199.65L298.27 199.75L305.28 199.83L312.29 199.92L319.3 199.99L326.69 200.06L334.53 200.13L342.83 200.2L351.6 200.26L360.86 200.33L370.62 200.39L380.87 200.46L391.64 200.52L402.9 200.6L414.64 200.68L426.83 200.78L439.42 200.89L452.23 201.02L465.04 201.18L477.85 201.37L490.66 201.58L503.47 201.81L516.28 202.06L529.09 202.32L541.9 202.6L554.71 202.89L567.52 203.2L580.33 203.51L593.14 203.83L605.95 204.15L618.76 204.5L631.57 204.87L644.38 205.27L657.19 205.68L670 206.11L682.81 206.56L695.62 207.03L708.43 207.51L721.24 208L734.05 208.5L746.86 209.01L759.67 209.52L772.48 210.04L785.29 210.56L798.1 211.08L810.91 211.6L823.72 212.12L836.53 212.63L849.34 213.13L862.15 213.63L874.96 214.11L887.77 214.58L900.58 215.04L913.39 215.49L926.2 215.93L939.01 216.36L951.82 216.8L964.63 217.23L977.44 217.66L990.25 218.1L1003.06 218.55L1015.87 219.01L1028.68 219.48L1041.49 219.97L1054.3 220.48L1067.11 221.01L1079.92 221.57L1092.73 222.15L1105.54 222.77L1118.35 223.41L1131.16 224.09L1143.97 224.8L1156.78 225.56L1169.59 226.36L1182.4 227.22L1195.21 228.13L1208.02 229.11L1220.83 230.15L1233.64 231.28L1246.45 232.55L1259.26 233.96L1272.07 235.52L1284.88 237.21L1297.69 239.04L1310.5 241L1313.5 241.49L1316.5 242L1319.5 242.54L1322.5 243.1L1325.5 243.69L1328.5 244.29L1331.5 244.91L1334.5 245.54L1337.5 246.19L1340.5 246.86L1343.5 247.53L1346.5 248.21L1349.5 248.9L1352.5 249.59L1355.5 250.29L1358.5 250.99L1361.5 251.69L1364.5 252.38L1367.5 253.08L1370.5 253.77L1373.5 254.48L1376.5 255.21L1379.5 255.98L1382.5 256.79L1385.5 257.65L1388.5 258.57L1391.5 259.54L1394.5 260.57L1397.5 261.64L1400.5 262.75L1403.5 263.89L1406.5 265.07L1409.5 266.26L1412.5 267.48L1415.5 268.71L1418.5 269.96L1421.5 271.24L1424.5 272.55L1427.5 273.9L1430.5 275.28L1433.5 276.71L1436.5 278.18L1439.5 279.69L1442.5 281.25L1445.5 282.87L1448.5 284.57L1451.5 286.34L1454.5 288.18L1457.5 290.07L1460.5 292.01L1463.5 293.99L1466.5 295.99L1469.5 298.04L1472.5 300.18L1475.5 302.47L1478.5 304.93L1481.5 307.65L1484.5 310.71L1487.5 314.08L1490.5 317.68L1493.5 321.44L1496.5 325.29L1499.5 329.14L1502.5 332.94L1505.5 336.6L1508.5 340.08L1511.5 343.5L1514.5 346.99L1517.5 350.7L1520.5 354.76L1523.5 359.4L1526.5 364.6L1529.5 370.07L1532.5 375.5L1535.5 380.67L1538.5 385.73L1541.5 390.81L1544.5 396.07L1547.5 401.66L1550.5 407.65L1553.5 413.91L1556.5 420.26L1559.5 426.51L1562.5 432.7L1565.5 438.9L1568.5 445.08L1571.5 451.23L1574.5 457.34L1577.5 463.43L1580.5 469.49L1583.5 475.51L1586.5 481.49L1589.5 487.5L1592.5 493.46L1595.5 499.26L1598.5 504.83L1601.5 510.19L1604.5 515.4L1607.5 520.49L1610.5 525.5L1613.5 530.51L1616.5 535.47L1619.5 540.27L1622.5 544.78L1625.5 548.95L1628.5 552.88L1631.5 556.63L1634.5 560.26L1637.5 563.82L1640.5 567.32L1643.5 570.7L1646.5 573.94L1649.5 577L1652.5 579.91L1655.5 582.69L1658.5 585.36L1661.5 587.96L1664.5 590.5L1667.5 592.96L1670.5 595.33L1674 598" fill="none" stroke="#000000" stroke-width="5.4" stroke-linecap="round" stroke-linejoin="round"/>
<g fill="#000000" stroke="none">
<rect x="271.56" y="179.95" width="39.4" height="39.4"/>
<rect x="278.57" y="180.05" width="39.4" height="39.4"/>
<rect x="285.58" y="180.13" width="39.4" height="39.4"/>
<rect x="292.59" y="180.22" width="39.4" height="39.4"/>
<rect x="299.6" y="180.29" width="39.4" height="39.4"/>
<rect x="306.99" y="180.36" width="39.4" height="39.4"/>
<rect x="314.83" y="180.43" width="39.4" height="39.4"/>
<rect x="323.13" y="180.5" width="39.4" height="39.4"/>
<rect x="331.9" y="180.56" width="39.4" height="39.4"/>
<rect x="341.16" y="180.63" width="39.4" height="39.4"/>
<rect x="350.92" y="180.69" width="39.4" height="39.4"/>
<rect x="361.17" y="180.76" width="39.4" height="39.4"/>
<rect x="371.94" y="180.82" width="39.4" height="39.4"/>
<rect x="383.2" y="180.9" width="39.4" height="39.4"/>
<rect x="394.94" y="180.98" width="39.4" height="39.4"/>
<rect x="407.13" y="181.08" width="39.4" height="39.4"/>
<rect x="419.72" y="181.19" width="39.4" height="39.4"/>
<rect x="432.53" y="181.32" width="39.4" height="39.4"/>
<rect x="445.34" y="181.48" width="39.4" height="39.4"/>
<rect x="458.15" y="181.67" width="39.4" height="39.4"/>
<rect x="470.96" y="181.88" width="39.4" height="39.4"/>
<rect x="483.77" y="182.11" width="39.4" height="39.4"/>
<rect x="496.58" y="182.36" width="39.4" height="39.4"/>
<rect x="509.39" y="182.62" width="39.4" height="39.4"/>
<rect x="522.2" y="182.9" width="39.4" height="39.4"/>
<rect x="535.01" y="183.19" width="39.4" height="39.4"/>
<rect x="547.82" y="183.5" width="39.4" height="39.4"/>
<rect x="560.63" y="183.81" width="39.4" height="39.4"/>
<rect x="573.44" y="184.13" width="39.4" height="39.4"/>
<rect x="586.25" y="184.45" width="39.4" height="39.4"/>
<rect x="599.06" y="184.8" width="39.4" height="39.4"/>
<rect x="611.87" y="185.17" width="39.4" height="39.4"/>
<rect x="624.68" y="185.57" width="39.4" height="39.4"/>
<rect x="637.49" y="185.98" width="39.4" height="39.4"/>
<rect x="650.3" y="186.41" width="39.4" height="39.4"/>
<rect x="663.11" y="186.86" width="39.4" height="39.4"/>
<rect x="675.92" y="187.33" width="39.4" height="39.4"/>
<rect x="688.73" y="187.81" width="39.4" height="39.4"/>
<rect x="701.54" y="188.3" width="39.4" height="39.4"/>
<rect x="714.35" y="188.8" width="39.4" height="39.4"/>
<rect x="727.16" y="189.31" width="39.4" height="39.4"/>
<rect x="739.97" y="189.82" width="39.4" height="39.4"/>
<rect x="752.78" y="190.34" width="39.4" height="39.4"/>
<rect x="765.59" y="190.86" width="39.4" height="39.4"/>
<rect x="778.4" y="191.38" width="39.4" height="39.4"/>
<rect x="791.21" y="191.9" width="39.4" height="39.4"/>
<rect x="804.02" y="192.42" width="39.4" height="39.4"/>
<rect x="816.83" y="192.93" width="39.4" height="39.4"/>
<rect x="829.64" y="193.43" width="39.4" height="39.4"/>
<rect x="842.45" y="193.93" width="39.4" height="39.4"/>
<rect x="855.26" y="194.41" width="39.4" height="39.4"/>
<rect x="868.07" y="194.88" width="39.4" height="39.4"/>
<rect x="880.88" y="195.34" width="39.4" height="39.4"/>
<rect x="893.69" y="195.79" width="39.4" height="39.4"/>
<rect x="906.5" y="196.23" width="39.4" height="39.4"/>
<rect x="919.31" y="196.66" width="39.4" height="39.4"/>
<rect x="932.12" y="197.1" width="39.4" height="39.4"/>
<rect x="944.93" y="197.53" width="39.4" height="39.4"/>
<rect x="957.74" y="197.96" width="39.4" height="39.4"/>
<rect x="970.55" y="198.4" width="39.4" height="39.4"/>
<rect x="983.36" y="198.85" width="39.4" height="39.4"/>
<rect x="996.17" y="199.31" width="39.4" height="39.4"/>
<rect x="1008.98" y="199.78" width="39.4" height="39.4"/>
<rect x="1021.79" y="200.27" width="39.4" height="39.4"/>
<rect x="1034.6" y="200.78" width="39.4" height="39.4"/>
<rect x="1047.41" y="201.31" width="39.4" height="39.4"/>
<rect x="1060.22" y="201.87" width="39.4" height="39.4"/>
<rect x="1073.03" y="202.45" width="39.4" height="39.4"/>
<rect x="1085.84" y="203.07" width="39.4" height="39.4"/>
<rect x="1098.65" y="203.71" width="39.4" height="39.4"/>
<rect x="1111.46" y="204.39" width="39.4" height="39.4"/>
<rect x="1124.27" y="205.1" width="39.4" height="39.4"/>
<rect x="1137.08" y="205.86" width="39.4" height="39.4"/>
<rect x="1149.89" y="206.66" width="39.4" height="39.4"/>
<rect x="1162.7" y="207.52" width="39.4" height="39.4"/>
<rect x="1175.51" y="208.43" width="39.4" height="39.4"/>
<rect x="1188.32" y="209.41" width="39.4" height="39.4"/>
<rect x="1201.13" y="210.45" width="39.4" height="39.4"/>
<rect x="1213.94" y="211.58" width="39.4" height="39.4"/>
<rect x="1226.75" y="212.85" width="39.4" height="39.4"/>
<rect x="1239.56" y="214.26" width="39.4" height="39.4"/>
<rect x="1252.37" y="215.82" width="39.4" height="39.4"/>
<rect x="1265.18" y="217.51" width="39.4" height="39.4"/>
<rect x="1277.99" y="219.34" width="39.4" height="39.4"/>
<rect x="1290.8" y="221.3" width="39.4" height="39.4"/>
<rect x="1345.3" y="232.8" width="39.4" height="39.4"/>
<rect x="1500.9" y="335.2" width="39.4" height="39.4"/>
<rect x="1513.8" y="357.55" width="39.4" height="39.4"/>
<rect x="1526.8" y="380.05" width="39.4" height="39.4"/>
<rect x="1539.55" y="406.3" width="39.4" height="39.4"/>
<rect x="1552.3" y="432.55" width="39.4" height="39.4"/>
<rect x="1565.05" y="458.3" width="39.4" height="39.4"/>
<rect x="1577.8" y="483.3" width="39.4" height="39.4"/>
<rect x="1590.8" y="505.8" width="39.4" height="39.4"/>
<rect x="1603.3" y="525.8" width="39.4" height="39.4"/>
<rect x="1616.05" y="542.05" width="39.4" height="39.4"/>
<rect x="1628.8" y="556.3" width="39.4" height="39.4"/>
<rect x="1641.55" y="568.05" width="39.4" height="39.4"/>
<rect x="1654.3" y="578.3" width="39.4" height="39.4"/>
</g>
<path d="M292.03 198.9L299.04 199.43L306.05 199.95L313.06 200.48L320.07 201.01L327.51 201.56L335.4 202.15L343.75 202.78L352.57 203.44L361.88 204.14L371.69 204.88L382 205.65L392.82 206.46L404.13 207.31L415.93 208.19L428.17 209.11L440.79 210.05L453.6 211.01L466.41 211.97L479.22 212.93L492.03 213.89L504.84 214.85L517.65 215.81L530.46 216.78L543.27 217.74L556.08 218.7L568.89 219.66L581.7 220.62L594.51 221.59L607.32 222.55L620.13 223.5L632.94 224.44L645.75 225.37L658.56 226.29L671.37 227.21L684.18 228.12L696.99 229.04L709.8 229.96L722.61 230.88L735.42 231.81L748.23 232.74L761.04 233.69L773.85 234.64L786.66 235.62L799.47 236.61L812.28 237.61L825.09 238.64L837.9 239.69L850.71 240.77L863.52 241.87L876.33 243L889.14 244.15L901.95 245.32L914.76 246.52L927.57 247.76L940.38 249.04L953.19 250.37L966 251.75L978.81 253.19L991.62 254.69L1004.43 256.24L1017.24 257.83L1030.05 259.49L1042.86 261.22L1055.67 263.05L1068.48 265L1081.29 267.07L1094.1 269.29L1106.91 271.68L1119.72 274.69L1132.53 277.85L1145.34 280.8L1158.15 283.38L1170.96 285.31L1183.77 287.58L1196.58 290.78L1209.39 294.62L1222.2 299.09L1235.01 304.5L1247.82 311.68L1260.63 319.25L1273.44 329.45L1286.25 340L1289.25 342.33L1292.25 344.58L1295.25 346.81L1298.25 349.08L1301.25 351.46L1304.25 353.99L1307.25 356.63L1310.25 359.36L1313.25 362.16L1316.25 365.04L1319.25 367.97L1322.25 370.96L1325.25 373.98L1328.25 377.09L1331.25 380.37L1334.25 383.8L1337.25 387.29L1340.25 390.78L1343.25 394.2L1346.25 397.49L1349.25 400.58L1352.25 403.42L1355.25 406.12L1358.25 408.72L1361.25 411.23L1364.25 413.65L1367.25 415.98L1370.25 418.23L1373.25 420.41L1376.25 422.5L1379.25 424.49L1382.25 426.36L1385.25 428.15L1388.25 429.88L1391.25 431.59L1394.25 433.3L1397.25 435.05L1400.25 436.87L1403.25 438.8L1406.25 440.87L1409.25 443L1412.25 445.12L1415.25 447.15L1418.25 449.02L1421.25 450.65L1424.25 452.11L1427.25 453.44L1430.25 454.69L1433.25 455.91L1436.25 457.15L1439.25 458.45L1442.25 459.87L1445.25 461.45L1448.25 463.14L1451.25 464.92L1454.25 466.73L1457.25 468.53L1460.25 470.26L1463.25 471.9L1466.25 473.44L1469.25 474.93L1472.25 476.37L1475.25 477.78L1478.25 479.18L1481.25 480.59L1484.25 482.01L1487.25 483.46L1490.25 484.97L1493.25 486.54L1496.25 488.2L1499.25 489.94L1502.25 491.74L1505.25 493.61L1508.25 495.53L1511.25 497.5L1514.25 499.51L1517.25 501.56L1520.25 503.66L1523.25 505.8L1526.25 507.98L1530 510.78" fill="none" stroke="#ff0000" stroke-width="5.4" stroke-linecap="round" stroke-linejoin="round"/>
<g fill="#ff0000" stroke="none">
<circle cx="292.03" cy="198.9" r="22.15"/>
<circle cx="299.04" cy="199.43" r="22.15"/>
<circle cx="306.05" cy="199.95" r="22.15"/>
<circle cx="313.06" cy="200.48" r="22.15"/>
<circle cx="320.07" cy="201.01" r="22.15"/>
<circle cx="327.51" cy="201.56" r="22.15"/>
<circle cx="335.4" cy="202.15" r="22.15"/>
<circle cx="343.75" cy="202.78" r="22.15"/>
<circle cx="352.57" cy="203.44" r="22.15"/>
<circle cx="361.88" cy="204.14" r="22.15"/>
<circle cx="371.69" cy="204.88" r="22.15"/>
<circle cx="382" cy="205.65" r="22.15"/>
<circle cx="392.82" cy="206.46" r="22.15"/>
<circle cx="404.13" cy="207.31" r="22.15"/>
<circle cx="415.93" cy="208.19" r="22.15"/>
<circle cx="428.17" cy="209.11" r="22.15"/>
<circle cx="440.79" cy="210.05" r="22.15"/>
<circle cx="453.6" cy="211.01" r="22.15"/>
<circle cx="466.41" cy="211.97" r="22.15"/>
<circle cx="479.22" cy="212.93" r="22.15"/>
<circle cx="492.03" cy="213.89" r="22.15"/>
<circle cx="504.84" cy="214.85" r="22.15"/>
<circle cx="517.65" cy="215.81" r="22.15"/>
<circle cx="530.46" cy="216.78" r="22.15"/>
<circle cx="543.27" cy="217.74" r="22.15"/>
<circle cx="556.08" cy="218.7" r="22.15"/>
<circle cx="568.89" cy="219.66" r="22.15"/>
<circle cx="581.7" cy="220.62" r="22.15"/>
<circle cx="594.51" cy="221.59" r="22.15"/>
<circle cx="607.32" cy="222.55" r="22.15"/>
<circle cx="620.13" cy="223.5" r="22.15"/>
<circle cx="632.94" cy="224.44" r="22.15"/>
<circle cx="645.75" cy="225.37" r="22.15"/>
<circle cx="658.56" cy="226.29" r="22.15"/>
<circle cx="671.37" cy="227.21" r="22.15"/>
<circle cx="684.18" cy="228.12" r="22.15"/>
<circle cx="696.99" cy="229.04" r="22.15"/>
<circle cx="709.8" cy="229.96" r="22.15"/>
<circle cx="722.61" cy="230.88" r="22.15"/>
<circle cx="735.42" cy="231.81" r="22.15"/>
<circle cx="748.23" cy="232.74" r="22.15"/>
<circle cx="761.04" cy="233.69" r="22.15"/>
<circle cx="773.85" cy="234.64" r="22.15"/>
<circle cx="786.66" cy="235.62" r="22.15"/>
<circle cx="799.47" cy="236.61" r="22.15"/>
<circle cx="812.28" cy="237.61" r="22.15"/>
<circle cx="825.09" cy="238.64" r="22.15"/>
<circle cx="837.9" cy="239.69" r="22.15"/>
<circle cx="850.71" cy="240.77" r="22.15"/>
<circle cx="863.52" cy="241.87" r="22.15"/>
<circle cx="876.33" cy="243" r="22.15"/>
<circle cx="889.14" cy="244.15" r="22.15"/>
<circle cx="901.95" cy="245.32" r="22.15"/>
<circle cx="914.76" cy="246.52" r="22.15"/>
<circle cx="927.57" cy="247.76" r="22.15"/>
<circle cx="940.38" cy="249.04" r="22.15"/>
<circle cx="953.19" cy="250.37" r="22.15"/>
<circle cx="966" cy="251.75" r="22.15"/>
<circle cx="978.81" cy="253.19" r="22.15"/>
<circle cx="991.62" cy="254.69" r="22.15"/>
<circle cx="1004.43" cy="256.24" r="22.15"/>
<circle cx="1017.24" cy="257.83" r="22.15"/>
<circle cx="1030.05" cy="259.49" r="22.15"/>
<circle cx="1042.86" cy="261.22" r="22.15"/>
<circle cx="1055.67" cy="263.05" r="22.15"/>
<circle cx="1068.48" cy="265" r="22.15"/>
<circle cx="1081.29" cy="267.07" r="22.15"/>
<circle cx="1094.1" cy="269.29" r="22.15"/>
<circle cx="1106.91" cy="271.68" r="22.15"/>
<circle cx="1119.72" cy="274.69" r="22.15"/>
<circle cx="1132.53" cy="277.85" r="22.15"/>
<circle cx="1145.34" cy="280.8" r="22.15"/>
<circle cx="1158.15" cy="283.38" r="22.15"/>
<circle cx="1170.96" cy="285.31" r="22.15"/>
<circle cx="1183.77" cy="287.58" r="22.15"/>
<circle cx="1196.58" cy="290.78" r="22.15"/>
<circle cx="1209.39" cy="294.62" r="22.15"/>
<circle cx="1222.2" cy="299.09" r="22.15"/>
<circle cx="1235.01" cy="304.5" r="22.15"/>
<circle cx="1247.82" cy="311.68" r="22.15"/>
<circle cx="1260.63" cy="319.25" r="22.15"/>
<circle cx="1273.44" cy="329.45" r="22.15"/>
<circle cx="1286.25" cy="340" r="22.15"/>
<circle cx="1462.5" cy="471.5" r="22.15"/>
</g>
<path d="M292.03 197.9L299.04 198.43L306.05 198.95L313.06 199.48L320.07 200.01L327.51 200.56L335.4 201.15L343.75 201.78L352.57 202.44L361.88 203.14L371.69 203.88L382 204.65L392.82 205.46L404.13 206.31L415.93 207.19L428.17 208.11L440.79 209.05L453.6 210.01L466.41 210.97L479.22 211.93L492.03 212.89L504.84 213.85L517.65 214.81L530.46 215.78L543.27 216.74L556.08 217.7L568.89 218.66L581.7 219.62L594.51 220.59L607.32 221.55L620.13 222.51L632.94 223.46L645.75 224.4L658.56 225.35L671.37 226.29L684.18 227.22L696.99 228.16L709.8 229.1L722.61 230.05L735.42 230.99L748.23 231.94L761.04 232.9L773.85 233.86L786.66 234.83L799.47 235.81L812.28 236.8L825.09 237.8L837.9 238.81L850.71 239.84L863.52 240.88L876.33 241.93L889.14 242.98L901.95 244.04L914.76 245.12L927.57 246.21L940.38 247.33L953.19 248.48L966 249.66L978.81 250.89L991.62 252.16L1004.43 253.45L1017.24 254.75L1030.05 256.08L1042.86 257.46L1055.67 258.91L1068.48 260.45L1081.29 262.11L1094.1 263.9L1106.91 265.85L1119.72 268.23L1132.53 271.04L1145.34 273.98L1158.15 276.74L1170.96 279.14L1183.77 281.43L1196.58 283.97L1209.39 287.11L1222.2 291.56L1235.01 297L1247.82 302.99L1260.63 309.79L1273.44 317.32L1286.25 326.3L1289.25 328.87L1292.25 331.76L1295.25 334.87L1298.25 338.09L1301.25 341.31L1304.25 344.4L1307.25 347.27L1310.25 349.93L1313.25 352.5L1316.25 355L1319.25 357.44L1322.25 359.83L1325.25 362.18L1328.25 364.5L1331.25 366.81L1334.25 369.11L1337.25 371.42L1340.25 373.75L1343.25 376.11L1346.25 378.5L1349.25 380.94L1352.25 383.41L1355.25 385.9L1358.25 388.39L1361.25 390.86L1364.25 393.3L1367.25 395.71L1370.25 398.05L1373.25 400.32L1376.25 402.5L1379.25 404.59L1382.25 406.59L1385.25 408.54L1388.25 410.43L1391.25 412.29L1394.25 414.14L1397.25 415.98L1400.25 417.84L1403.25 419.73L1406.25 421.67L1409.25 423.68L1412.25 425.74L1415.25 427.86L1418.25 430.01L1421.25 432.19L1424.25 434.39L1427.25 436.58L1430.25 438.77L1433.25 440.93L1436.25 443.05L1439.25 445.13L1442.25 447.14L1445.25 449.09L1448.25 450.95L1451.25 452.69L1454.25 454.3L1457.25 455.87L1460.25 457.45L1463.25 459.15L1466.25 460.91L1469.25 462.69L1472.25 464.49L1475.25 466.32L1478.25 468.16L1481.25 470.03L1484.25 471.93L1487.25 473.86L1490.25 475.82L1493.25 477.81L1496.25 479.83L1499.25 481.9L1502.25 484L1505.25 486.14L1508.25 488.33L1511.25 490.56L1514.25 492.85L1517.25 495.28L1520.25 497.83L1523.25 500.46L1526.25 503.15L1529.25 505.91L1532.25 508.76L1535.25 511.68L1538.75 515.2" fill="none" stroke="#0000ff" stroke-width="5.4" stroke-linecap="round" stroke-linejoin="round"/>
<g fill="#0000ff" stroke="#0000ff" stroke-width="2.2" stroke-linejoin="round">
<path d="M292.03 174.3L316.8 217.2L267.26 217.2Z"/>
<path d="M299.04 174.83L323.81 217.73L274.27 217.73Z"/>
<path d="M306.05 175.35L330.82 218.25L281.28 218.25Z"/>
<path d="M313.06 175.88L337.83 218.78L288.29 218.78Z"/>
<path d="M320.07 176.41L344.84 219.31L295.3 219.31Z"/>
<path d="M327.51 176.96L352.28 219.86L302.74 219.86Z"/>
<path d="M335.4 177.55L360.17 220.45L310.63 220.45Z"/>
<path d="M343.75 178.18L368.52 221.08L318.98 221.08Z"/>
<path d="M352.57 178.84L377.34 221.74L327.8 221.74Z"/>
<path d="M361.88 179.54L386.65 222.44L337.11 222.44Z"/>
<path d="M371.69 180.28L396.46 223.18L346.92 223.18Z"/>
<path d="M382 181.05L406.77 223.95L357.24 223.95Z"/>
<path d="M392.82 181.86L417.59 224.76L368.05 224.76Z"/>
<path d="M404.13 182.71L428.9 225.61L379.37 225.61Z"/>
<path d="M415.93 183.59L440.69 226.49L391.16 226.49Z"/>
<path d="M428.17 184.51L452.93 227.41L403.4 227.41Z"/>
<path d="M440.79 185.45L465.56 228.35L416.02 228.35Z"/>
<path d="M453.6 186.41L478.37 229.31L428.83 229.31Z"/>
<path d="M466.41 187.37L491.18 230.27L441.64 230.27Z"/>
<path d="M479.22 188.33L503.99 231.23L454.45 231.23Z"/>
<path d="M492.03 189.29L516.8 232.19L467.26 232.19Z"/>
<path d="M504.84 190.25L529.61 233.15L480.07 233.15Z"/>
<path d="M517.65 191.21L542.42 234.11L492.88 234.11Z"/>
<path d="M530.46 192.18L555.23 235.08L505.69 235.08Z"/>
<path d="M543.27 193.14L568.04 236.04L518.5 236.04Z"/>
<path d="M556.08 194.1L580.85 237L531.31 237Z"/>
<path d="M568.89 195.06L593.66 237.96L544.12 237.96Z"/>
<path d="M581.7 196.02L606.47 238.92L556.93 238.92Z"/>
<path d="M594.51 196.99L619.28 239.89L569.74 239.89Z"/>
<path d="M607.32 197.95L632.09 240.85L582.55 240.85Z"/>
<path d="M620.13 198.91L644.9 241.81L595.36 241.81Z"/>
<path d="M632.94 199.86L657.71 242.76L608.17 242.76Z"/>
<path d="M645.75 200.8L670.52 243.7L620.98 243.7Z"/>
<path d="M658.56 201.75L683.33 244.65L633.79 244.65Z"/>
<path d="M671.37 202.69L696.14 245.59L646.6 245.59Z"/>
<path d="M684.18 203.62L708.95 246.52L659.41 246.52Z"/>
<path d="M696.99 204.56L721.76 247.46L672.22 247.46Z"/>
<path d="M709.8 205.5L734.57 248.4L685.03 248.4Z"/>
<path d="M722.61 206.45L747.38 249.35L697.84 249.35Z"/>
<path d="M735.42 207.39L760.19 250.29L710.65 250.29Z"/>
<path d="M748.23 208.34L773 251.24L723.46 251.24Z"/>
<path d="M761.04 209.3L785.81 252.2L736.27 252.2Z"/>
<path d="M773.85 210.26L798.62 253.16L749.08 253.16Z"/>
<path d="M786.66 211.23L811.43 254.13L761.89 254.13Z"/>
<path d="M799.47 212.21L824.24 255.11L774.7 255.11Z"/>
<path d="M812.28 213.2L837.05 256.1L787.51 256.1Z"/>
<path d="M825.09 214.2L849.86 257.1L800.32 257.1Z"/>
<path d="M837.9 215.21L862.67 258.11L813.13 258.11Z"/>
<path d="M850.71 216.24L875.48 259.14L825.94 259.14Z"/>
<path d="M863.52 217.28L888.29 260.18L838.75 260.18Z"/>
<path d="M876.33 218.33L901.1 261.23L851.56 261.23Z"/>
<path d="M889.14 219.38L913.91 262.28L864.37 262.28Z"/>
<path d="M901.95 220.44L926.72 263.34L877.18 263.34Z"/>
<path d="M914.76 221.52L939.53 264.42L889.99 264.42Z"/>
<path d="M927.57 222.61L952.34 265.51L902.8 265.51Z"/>
<path d="M940.38 223.73L965.15 266.63L915.61 266.63Z"/>
<path d="M953.19 224.88L977.96 267.78L928.42 267.78Z"/>
<path d="M966 226.06L990.77 268.96L941.23 268.96Z"/>
<path d="M978.81 227.29L1003.58 270.19L954.04 270.19Z"/>
<path d="M991.62 228.56L1016.39 271.46L966.85 271.46Z"/>
<path d="M1004.43 229.84L1029.2 272.74L979.66 272.74Z"/>
<path d="M1017.24 231.11L1042.01 274.01L992.47 274.01Z"/>
<path d="M1030.05 232.41L1054.82 275.31L1005.28 275.31Z"/>
<path d="M1042.86 233.75L1067.63 276.65L1018.09 276.65Z"/>
<path d="M1055.67 235.18L1080.44 278.08L1030.9 278.08Z"/>
<path d="M1068.48 236.71L1093.25 279.61L1043.71 279.61Z"/>
<path d="M1081.29 238.38L1106.06 281.28L1056.52 281.28Z"/>
<path d="M1094.1 240.22L1118.87 283.12L1069.33 283.12Z"/>
<path d="M1106.91 242.25L1131.68 285.15L1082.14 285.15Z"/>
<path d="M1119.72 245.05L1144.49 287.95L1094.95 287.95Z"/>
<path d="M1132.53 248.03L1157.3 290.93L1107.76 290.93Z"/>
<path d="M1145.34 250.75L1170.11 293.65L1120.57 293.65Z"/>
<path d="M1158.15 253.02L1182.92 295.92L1133.38 295.92Z"/>
<path d="M1170.96 254.52L1195.73 297.42L1146.19 297.42Z"/>
<path d="M1183.77 256.41L1208.54 299.31L1159 299.31Z"/>
<path d="M1196.58 259.59L1221.35 302.49L1171.81 302.49Z"/>
<path d="M1209.39 263.52L1234.16 306.42L1184.62 306.42Z"/>
<path d="M1222.2 268.08L1246.97 310.98L1197.43 310.98Z"/>
<path d="M1235.01 273.4L1259.78 316.3L1210.24 316.3Z"/>
<path d="M1247.82 279.76L1272.59 322.66L1223.05 322.66Z"/>
<path d="M1260.63 286.29L1285.4 329.19L1235.86 329.19Z"/>
<path d="M1273.44 294.56L1298.21 337.46L1248.67 337.46Z"/>
<path d="M1286.25 302.7L1311.02 345.6L1261.48 345.6Z"/>
<path d="M1463 433.4L1487.77 476.3L1438.23 476.3Z"/>
<path d="M1512.5 467.9L1537.27 510.8L1487.73 510.8Z"/>
<path d="M1525.75 479.1L1550.52 522L1500.98 522Z"/>
<path d="M1538.75 491.6L1563.52 534.5L1513.98 534.5Z"/>
</g>
<path d="M293.73 1420L300.74 1420L307.75 1420L314.76 1420L321.88 1420L329.43 1420L337.44 1420L345.9 1420L354.84 1420L364.28 1419.99L374.21 1419.99L384.65 1419.98L395.59 1419.98L407.03 1419.97L418.93 1419.96L431.28 1419.95L443.98 1419.94L456.79 1419.93L469.6 1419.92L482.41 1419.9L495.22 1419.89L508.03 1419.87L520.84 1419.85L533.65 1419.83L546.46 1419.81L559.27 1419.79L572.08 1419.77L584.89 1419.75L597.7 1419.73L610.51 1419.71L623.32 1419.68L636.13 1419.66L648.94 1419.63L661.75 1419.6L674.56 1419.58L687.37 1419.55L700.18 1419.52L712.99 1419.49L725.8 1419.46L738.61 1419.43L751.42 1419.4L764.23 1419.37L777.04 1419.33L789.85 1419.3L802.66 1419.27L815.47 1419.23L828.28 1419.2L841.09 1419.16L853.9 1419.13L866.71 1419.09L879.52 1419.06L892.33 1419.02L905.14 1418.99L917.95 1418.95L930.76 1418.91L943.57 1418.86L956.38 1418.81L969.19 1418.76L982 1418.71L994.81 1418.65L1007.62 1418.59L1020.43 1418.53L1033.24 1418.46L1046.05 1418.38L1058.86 1418.31L1071.67 1418.22L1084.48 1418.14L1097.29 1418.04L1110.1 1417.95L1122.91 1417.85L1135.72 1417.74L1148.53 1417.63L1161.34 1417.51L1174.15 1417.37L1186.96 1417.21L1199.77 1417.02L1212.58 1416.8L1225.39 1416.55L1238.2 1416.28L1251.01 1415.98L1263.82 1415.65L1276.63 1415.3L1289.44 1414.92L1302.25 1414.47L1315.06 1413.92L1327.87 1413.29L1340.68 1412.58L1353.49 1411.79L1366.3 1410.94L1379.11 1410.03L1391.92 1409.08L1404.73 1408.07L1417.54 1407.04L1430.35 1405.97L1443.16 1404.81L1455.97 1403.49L1468.78 1402.04L1481.59 1400.49L1494.4 1398.85L1507.21 1397.14L1520.02 1395.38L1532.83 1393.61L1545.64 1391.89L1558.45 1390.18L1571.26 1388.39L1584.07 1386.45L1596.88 1384.25L1609.69 1381.71L1622.5 1378.75L1625.5 1377.96L1628.5 1377.08L1631.5 1376.12L1634.5 1375.08L1637.5 1373.97L1640.5 1372.79L1643.5 1371.54L1646.5 1370.23L1649.5 1368.86L1652.5 1367.44L1655.5 1365.96L1658.5 1364.44L1661.5 1362.88L1664.5 1361.27L1667.5 1359.63L1670.5 1357.95L1673.5 1356.24L1676.5 1354.51L1679.5 1352.76L1682.5 1350.99L1685.5 1349.2L1688.5 1347.41L1691.5 1345.6L1694.5 1343.8L1697.5 1341.99L1700.5 1340.19L1703.5 1338.39L1706.5 1336.61L1709.5 1334.81L1712.5 1332.99L1715.5 1331.14L1718.5 1329.23L1721.5 1327.25L1724.5 1325.19L1727.5 1323.04L1730.5 1320.78L1733.5 1318.4L1736.5 1315.87M1777.9 1263.61L1778.5 1262.62L1780 1260L1781.5 1257.22L1784.5 1251.15L1787.5 1244.48L1790 1238.53L1790.5 1237.3L1793.5 1229.73L1796.5 1221.88L1799.5 1213.85L1800 1212.5L1802.5 1205.58L1805.5 1196.84L1808.5 1187.7L1810 1182.99L1811.5 1178.21L1814.5 1168.44L1817.5 1158.45L1820 1150L1820.5 1148.3L1823.5 1137.93L1826 1129L1826.5 1127.18L1829.5 1115.9M1832.25 1104.98L1832.5 1103.96L1835.5 1091.35L1838 1080.33L1838.5 1078.06L1841.5 1064L1843.9 1052.06M1845.96 1041.3L1847.5 1032.97L1850.5 1015.49L1851 1012.47L1853.5 997.1L1856.5 978.28L1856.67 977.24M1858.33 966.73L1859.5 959.35L1862 943.22L1862.5 939.94L1865.5 919.85L1867.5 906L1868.5 898.72L1871 879.22L1871.5 875.28L1874.5 853.2L1875 850L1877.5 835.11L1879 826.88L1880.5 819.22L1882.5 810L1883.5 805.7L1886.5 792.97L1887 790.89L1889.5 780.74L1892 771.11L1892.5 769.26L1895.5 758.8L1898 751.06L1898.5 749.63L1901.5 742.02L1903.75 737.5L1904.5 736.16L1907.5 730.9L1908 730.14L1910.5 727.38L1911.9 726.9L1913.5 727.53L1916.25 730.25L1916.5 730.53L1919.5 735.1L1922 740.45L1922.5 741.66L1925.5 749.74L1927.5 755.82M1930.66 766.5L1931.5 769.65L1934.5 783.69L1935 786.25L1937.5 799.52L1940.5 815.51M1942.66 826.4L1943.5 830.64L1946.5 846L1948 853.74L1949.5 861.47L1952.5 876.78L1953.34 880.99M1955.5 891.64L1958.5 906.15L1961 918.06L1961.5 920.43L1964.5 934.59L1966.28 943M1968.57 953.86L1970.5 963.11L1973.5 977.6L1974 980L1976.5 991.73L1980.1 1007.5L1981 1011" fill="none" stroke="#000000" stroke-width="5.4" stroke-linecap="round" stroke-linejoin="round"/>
<g fill="none" stroke="#000000" stroke-width="3" stroke-linejoin="miter">
<rect x="275.53" y="1401.8" width="36.4" height="36.4"/>
<rect x="282.54" y="1401.8" width="36.4" height="36.4"/>
<rect x="289.55" y="1401.8" width="36.4" height="36.4"/>
<rect x="296.56" y="1401.8" width="36.4" height="36.4"/>
<rect x="303.68" y="1401.8" width="36.4" height="36.4"/>
<rect x="311.23" y="1401.8" width="36.4" height="36.4"/>
<rect x="319.24" y="1401.8" width="36.4" height="36.4"/>
<rect x="327.7" y="1401.8" width="36.4" height="36.4"/>
<rect x="336.64" y="1401.8" width="36.4" height="36.4"/>
<rect x="346.08" y="1401.79" width="36.4" height="36.4"/>
<rect x="356.01" y="1401.79" width="36.4" height="36.4"/>
<rect x="366.45" y="1401.78" width="36.4" height="36.4"/>
<rect x="377.39" y="1401.78" width="36.4" height="36.4"/>
<rect x="388.83" y="1401.77" width="36.4" height="36.4"/>
<rect x="400.73" y="1401.76" width="36.4" height="36.4"/>
<rect x="413.08" y="1401.75" width="36.4" height="36.4"/>
<rect x="425.78" y="1401.74" width="36.4" height="36.4"/>
<rect x="438.59" y="1401.73" width="36.4" height="36.4"/>
<rect x="451.4" y="1401.72" width="36.4" height="36.4"/>
<rect x="464.21" y="1401.7" width="36.4" height="36.4"/>
<rect x="477.02" y="1401.69" width="36.4" height="36.4"/>
<rect x="489.83" y="1401.67" width="36.4" height="36.4"/>
<rect x="502.64" y="1401.65" width="36.4" height="36.4"/>
<rect x="515.45" y="1401.63" width="36.4" height="36.4"/>
<rect x="528.26" y="1401.61" width="36.4" height="36.4"/>
<rect x="541.07" y="1401.59" width="36.4" height="36.4"/>
<rect x="553.88" y="1401.57" width="36.4" height="36.4"/>
<rect x="566.69" y="1401.55" width="36.4" height="36.4"/>
<rect x="579.5" y="1401.53" width="36.4" height="36.4"/>
<rect x="592.31" y="1401.51" width="36.4" height="36.4"/>
<rect x="605.12" y="1401.48" width="36.4" height="36.4"/>
<rect x="617.93" y="1401.46" width="36.4" height="36.4"/>
<rect x="630.74" y="1401.43" width="36.4" height="36.4"/>
<rect x="643.55" y="1401.4" width="36.4" height="36.4"/>
<rect x="656.36" y="1401.38" width="36.4" height="36.4"/>
<rect x="669.17" y="1401.35" width="36.4" height="36.4"/>
<rect x="681.98" y="1401.32" width="36.4" height="36.4"/>
<rect x="694.79" y="1401.29" width="36.4" height="36.4"/>
<rect x="707.6" y="1401.26" width="36.4" height="36.4"/>
<rect x="720.41" y="1401.23" width="36.4" height="36.4"/>
<rect x="733.22" y="1401.2" width="36.4" height="36.4"/>
<rect x="746.03" y="1401.17" width="36.4" height="36.4"/>
<rect x="758.84" y="1401.13" width="36.4" height="36.4"/>
<rect x="771.65" y="1401.1" width="36.4" height="36.4"/>
<rect x="784.46" y="1401.07" width="36.4" height="36.4"/>
<rect x="797.27" y="1401.03" width="36.4" height="36.4"/>
<rect x="810.08" y="1401" width="36.4" height="36.4"/>
<rect x="822.89" y="1400.96" width="36.4" height="36.4"/>
<rect x="835.7" y="1400.93" width="36.4" height="36.4"/>
<rect x="848.51" y="1400.89" width="36.4" height="36.4"/>
<rect x="861.32" y="1400.86" width="36.4" height="36.4"/>
<rect x="874.13" y="1400.82" width="36.4" height="36.4"/>
<rect x="886.94" y="1400.79" width="36.4" height="36.4"/>
<rect x="899.75" y="1400.75" width="36.4" height="36.4"/>
<rect x="912.56" y="1400.71" width="36.4" height="36.4"/>
<rect x="925.37" y="1400.66" width="36.4" height="36.4"/>
<rect x="938.18" y="1400.61" width="36.4" height="36.4"/>
<rect x="950.99" y="1400.56" width="36.4" height="36.4"/>
<rect x="963.8" y="1400.51" width="36.4" height="36.4"/>
<rect x="976.61" y="1400.45" width="36.4" height="36.4"/>
<rect x="989.42" y="1400.39" width="36.4" height="36.4"/>
<rect x="1002.23" y="1400.33" width="36.4" height="36.4"/>
<rect x="1015.04" y="1400.26" width="36.4" height="36.4"/>
<rect x="1027.85" y="1400.18" width="36.4" height="36.4"/>
<rect x="1040.66" y="1400.11" width="36.4" height="36.4"/>
<rect x="1053.47" y="1400.02" width="36.4" height="36.4"/>
<rect x="1066.28" y="1399.94" width="36.4" height="36.4"/>
<rect x="1079.09" y="1399.84" width="36.4" height="36.4"/>
<rect x="1091.9" y="1399.75" width="36.4" height="36.4"/>
<rect x="1104.71" y="1399.65" width="36.4" height="36.4"/>
<rect x="1117.52" y="1399.54" width="36.4" height="36.4"/>
<rect x="1130.33" y="1399.43" width="36.4" height="36.4"/>
<rect x="1143.14" y="1399.31" width="36.4" height="36.4"/>
<rect x="1155.95" y="1399.17" width="36.4" height="36.4"/>
<rect x="1168.76" y="1399.01" width="36.4" height="36.4"/>
<rect x="1181.57" y="1398.82" width="36.4" height="36.4"/>
<rect x="1194.38" y="1398.6" width="36.4" height="36.4"/>
<rect x="1207.19" y="1398.35" width="36.4" height="36.4"/>
<rect x="1220" y="1398.08" width="36.4" height="36.4"/>
<rect x="1232.81" y="1397.78" width="36.4" height="36.4"/>
<rect x="1245.62" y="1397.45" width="36.4" height="36.4"/>
<rect x="1258.43" y="1397.1" width="36.4" height="36.4"/>
<rect x="1271.24" y="1396.72" width="36.4" height="36.4"/>
<rect x="1284.05" y="1396.27" width="36.4" height="36.4"/>
<rect x="1296.86" y="1395.72" width="36.4" height="36.4"/>
<rect x="1309.67" y="1395.09" width="36.4" height="36.4"/>
<rect x="1322.48" y="1394.38" width="36.4" height="36.4"/>
<rect x="1335.29" y="1393.59" width="36.4" height="36.4"/>
<rect x="1348.1" y="1392.74" width="36.4" height="36.4"/>
<rect x="1360.91" y="1391.83" width="36.4" height="36.4"/>
<rect x="1373.72" y="1390.88" width="36.4" height="36.4"/>
<rect x="1386.53" y="1389.87" width="36.4" height="36.4"/>
<rect x="1399.34" y="1388.84" width="36.4" height="36.4"/>
<rect x="1412.15" y="1387.77" width="36.4" height="36.4"/>
<rect x="1424.96" y="1386.61" width="36.4" height="36.4"/>
<rect x="1437.77" y="1385.29" width="36.4" height="36.4"/>
<rect x="1450.58" y="1383.84" width="36.4" height="36.4"/>
<rect x="1463.39" y="1382.29" width="36.4" height="36.4"/>
<rect x="1476.2" y="1380.65" width="36.4" height="36.4"/>
<rect x="1489.01" y="1378.94" width="36.4" height="36.4"/>
<rect x="1501.82" y="1377.18" width="36.4" height="36.4"/>
<rect x="1514.63" y="1375.4" width="36.4" height="36.4"/>
<rect x="1527.44" y="1373.55" width="36.4" height="36.4"/>
<rect x="1540.25" y="1371.59" width="36.4" height="36.4"/>
<rect x="1553.06" y="1369.54" width="36.4" height="36.4"/>
<rect x="1565.87" y="1367.41" width="36.4" height="36.4"/>
<rect x="1578.68" y="1365.19" width="36.4" height="36.4"/>
<rect x="1591.49" y="1362.91" width="36.4" height="36.4"/>
<rect x="1604.3" y="1360.55" width="36.4" height="36.4"/>
<rect x="1740.05" y="1272.8" width="36.4" height="36.4"/>
<rect x="1813.7" y="1092.2" width="36.4" height="36.4"/>
<rect x="1826.8" y="1028.3" width="36.4" height="36.4"/>
<rect x="1839.3" y="953.8" width="36.4" height="36.4"/>
<rect x="1898.05" y="712.05" width="36.4" height="36.4"/>
<rect x="1911.05" y="743.05" width="36.4" height="36.4"/>
<rect x="1923.4" y="802.9" width="36.4" height="36.4"/>
<rect x="1936.2" y="868.05" width="36.4" height="36.4"/>
<rect x="1949.2" y="930.05" width="36.4" height="36.4"/>
<rect x="1961.9" y="989.3" width="36.4" height="36.4"/>
</g>
<path d="M293.7 1408L300.71 1408L307.72 1408L314.73 1408L321.84 1408L329.39 1408L337.39 1408L345.85 1408L354.79 1408L364.23 1407.99L374.16 1407.99L384.59 1407.99L395.53 1407.98L406.96 1407.98L418.87 1407.97L431.21 1407.96L443.91 1407.95L456.72 1407.94L469.53 1407.93L482.34 1407.92L495.15 1407.9L507.96 1407.89L520.77 1407.87L533.58 1407.85L546.39 1407.83L559.2 1407.81L572.01 1407.79L584.82 1407.76L597.63 1407.73L610.44 1407.71L623.25 1407.68L636.06 1407.64L648.87 1407.61L661.68 1407.58L674.49 1407.54L687.3 1407.5L700.11 1407.46L712.92 1407.42L725.73 1407.37L738.54 1407.32L751.35 1407.27L764.16 1407.22L776.97 1407.17L789.78 1407.11L802.59 1407.06L815.4 1407L828.21 1406.93L841.02 1406.87L853.83 1406.8L866.64 1406.73L879.45 1406.66L892.26 1406.59L905.07 1406.51L917.88 1406.43L930.69 1406.35L943.5 1406.26L956.31 1406.18L969.12 1406.09L981.93 1405.99L994.74 1405.9L1007.55 1405.8L1020.36 1405.7L1033.17 1405.59L1045.98 1405.49L1058.79 1405.38L1071.6 1405.26L1084.41 1405.15L1097.22 1405.03L1110.03 1404.79L1122.84 1404.23L1135.65 1403.39L1148.46 1402.35L1161.27 1401.18L1174.08 1399.94L1186.89 1398.7L1199.7 1397.53L1212.51 1396.44L1225.32 1395.24L1238.13 1393.97L1250.94 1392.75L1263.75 1391.7L1276.56 1390.92L1289.37 1390.42L1302.18 1390.05L1314.99 1389.66L1327.8 1389.12L1340.61 1388.25L1353.42 1386.94L1366.23 1385.23L1379.04 1383.15L1391.85 1380.72L1404.66 1377.8L1417.47 1373.16L1430.28 1367.89L1443.09 1362.73L1455.9 1357.05L1468.71 1350.42L1481.52 1343.21L1494.33 1335.82L1507.14 1327.91L1519.95 1319.21L1532.76 1309.69L1545.57 1299.04L1558.38 1287.66L1571.19 1276.49L1584 1264L1587 1260.57L1590 1256.86L1593 1252.93L1596 1248.83L1599 1244.6L1602 1240.29L1605 1235.96L1608 1231.66L1611 1227.43L1614 1223.33L1617 1219.36L1620 1215.39L1623 1211.43L1626 1207.48L1629 1203.54L1632 1199.63L1635 1195.74L1638 1191.9L1641 1188.09L1644 1184.34L1647 1180.64L1650 1177L1653 1173.45L1656 1169.98L1659 1166.57L1662 1163.2L1665 1159.86L1668 1156.51L1671 1153.13L1674 1149.71L1677 1146.22L1680 1142.68L1683 1139.11L1686 1135.52L1689 1131.94L1692 1128.37L1695 1124.85L1698 1121.38L1701 1117.99L1704 1114.69L1707 1111.5L1710 1108.44L1713 1105.52L1716 1102.7L1719 1099.93L1722 1097.24L1725 1094.62L1728 1092.09L1731 1089.65L1734 1087.32L1737 1085.1L1740 1083L1743 1080.98L1746 1079.02L1749 1077.14L1752 1075.34L1755 1073.65L1758 1072.08L1761 1070.65L1763 1069.8M1781 1063.63L1782 1063.38L1785 1062.66L1788 1061.94L1791 1061.33L1794 1060.96L1797 1060.94L1800 1061.25L1803 1061.81L1806 1062.54L1809 1063.4L1812 1064.9L1815 1067.06L1818 1069.61L1821 1072.24L1824 1074.98L1827 1078.03L1830 1081.36L1833 1084.89L1836 1088.64L1839 1092.72L1842 1097.07L1845 1101.66L1848 1106.47L1851 1111.75L1854 1117.33L1857 1122.89L1860 1128.16L1863 1133.09L1866 1137.86L1869 1142.59L1872 1147.41L1875 1152.33L1878 1157.26L1881 1162.29L1884 1167.49L1887 1172.96L1890 1178.7L1893 1184.66L1895 1188.75" fill="none" stroke="#ff0000" stroke-width="5.4" stroke-linecap="round" stroke-linejoin="round"/>
<g fill="none" stroke="#ff0000" stroke-width="3" stroke-linejoin="miter">
<circle cx="293.7" cy="1408" r="20.65"/>
<circle cx="300.71" cy="1408" r="20.65"/>
<circle cx="307.72" cy="1408" r="20.65"/>
<circle cx="314.73" cy="1408" r="20.65"/>
<circle cx="321.84" cy="1408" r="20.65"/>
<circle cx="329.39" cy="1408" r="20.65"/>
<circle cx="337.39" cy="1408" r="20.65"/>
<circle cx="345.85" cy="1408" r="20.65"/>
<circle cx="354.79" cy="1408" r="20.65"/>
<circle cx="364.23" cy="1407.99" r="20.65"/>
<circle cx="374.16" cy="1407.99" r="20.65"/>
<circle cx="384.59" cy="1407.99" r="20.65"/>
<circle cx="395.53" cy="1407.98" r="20.65"/>
<circle cx="406.96" cy="1407.98" r="20.65"/>
<circle cx="418.87" cy="1407.97" r="20.65"/>
<circle cx="431.21" cy="1407.96" r="20.65"/>
<circle cx="443.91" cy="1407.95" r="20.65"/>
<circle cx="456.72" cy="1407.94" r="20.65"/>
<circle cx="469.53" cy="1407.93" r="20.65"/>
<circle cx="482.34" cy="1407.92" r="20.65"/>
<circle cx="495.15" cy="1407.9" r="20.65"/>
<circle cx="507.96" cy="1407.89" r="20.65"/>
<circle cx="520.77" cy="1407.87" r="20.65"/>
<circle cx="533.58" cy="1407.85" r="20.65"/>
<circle cx="546.39" cy="1407.83" r="20.65"/>
<circle cx="559.2" cy="1407.81" r="20.65"/>
<circle cx="572.01" cy="1407.79" r="20.65"/>
<circle cx="584.82" cy="1407.76" r="20.65"/>
<circle cx="597.63" cy="1407.73" r="20.65"/>
<circle cx="610.44" cy="1407.71" r="20.65"/>
<circle cx="623.25" cy="1407.68" r="20.65"/>
<circle cx="636.06" cy="1407.64" r="20.65"/>
<circle cx="648.87" cy="1407.61" r="20.65"/>
<circle cx="661.68" cy="1407.58" r="20.65"/>
<circle cx="674.49" cy="1407.54" r="20.65"/>
<circle cx="687.3" cy="1407.5" r="20.65"/>
<circle cx="700.11" cy="1407.46" r="20.65"/>
<circle cx="712.92" cy="1407.42" r="20.65"/>
<circle cx="725.73" cy="1407.37" r="20.65"/>
<circle cx="738.54" cy="1407.32" r="20.65"/>
<circle cx="751.35" cy="1407.27" r="20.65"/>
<circle cx="764.16" cy="1407.22" r="20.65"/>
<circle cx="776.97" cy="1407.17" r="20.65"/>
<circle cx="789.78" cy="1407.11" r="20.65"/>
<circle cx="802.59" cy="1407.06" r="20.65"/>
<circle cx="815.4" cy="1407" r="20.65"/>
<circle cx="828.21" cy="1406.93" r="20.65"/>
<circle cx="841.02" cy="1406.87" r="20.65"/>
<circle cx="853.83" cy="1406.8" r="20.65"/>
<circle cx="866.64" cy="1406.73" r="20.65"/>
<circle cx="879.45" cy="1406.66" r="20.65"/>
<circle cx="892.26" cy="1406.59" r="20.65"/>
<circle cx="905.07" cy="1406.51" r="20.65"/>
<circle cx="917.88" cy="1406.43" r="20.65"/>
<circle cx="930.69" cy="1406.35" r="20.65"/>
<circle cx="943.5" cy="1406.26" r="20.65"/>
<circle cx="956.31" cy="1406.18" r="20.65"/>
<circle cx="969.12" cy="1406.09" r="20.65"/>
<circle cx="981.93" cy="1405.99" r="20.65"/>
<circle cx="994.74" cy="1405.9" r="20.65"/>
<circle cx="1007.55" cy="1405.8" r="20.65"/>
<circle cx="1020.36" cy="1405.7" r="20.65"/>
<circle cx="1033.17" cy="1405.59" r="20.65"/>
<circle cx="1045.98" cy="1405.49" r="20.65"/>
<circle cx="1058.79" cy="1405.38" r="20.65"/>
<circle cx="1071.6" cy="1405.26" r="20.65"/>
<circle cx="1084.41" cy="1405.15" r="20.65"/>
<circle cx="1097.22" cy="1405.03" r="20.65"/>
<circle cx="1110.03" cy="1404.79" r="20.65"/>
<circle cx="1122.84" cy="1404.23" r="20.65"/>
<circle cx="1135.65" cy="1403.39" r="20.65"/>
<circle cx="1148.46" cy="1402.35" r="20.65"/>
<circle cx="1161.27" cy="1401.18" r="20.65"/>
<circle cx="1174.08" cy="1399.94" r="20.65"/>
<circle cx="1186.89" cy="1398.7" r="20.65"/>
<circle cx="1199.7" cy="1397.53" r="20.65"/>
<circle cx="1212.51" cy="1396.44" r="20.65"/>
<circle cx="1225.32" cy="1395.24" r="20.65"/>
<circle cx="1238.13" cy="1393.97" r="20.65"/>
<circle cx="1250.94" cy="1392.75" r="20.65"/>
<circle cx="1263.75" cy="1391.7" r="20.65"/>
<circle cx="1276.56" cy="1390.92" r="20.65"/>
<circle cx="1289.37" cy="1390.42" r="20.65"/>
<circle cx="1302.18" cy="1390.05" r="20.65"/>
<circle cx="1314.99" cy="1389.66" r="20.65"/>
<circle cx="1327.8" cy="1389.12" r="20.65"/>
<circle cx="1340.61" cy="1388.25" r="20.65"/>
<circle cx="1353.42" cy="1386.94" r="20.65"/>
<circle cx="1366.23" cy="1385.23" r="20.65"/>
<circle cx="1379.04" cy="1383.15" r="20.65"/>
<circle cx="1391.85" cy="1380.72" r="20.65"/>
<circle cx="1404.66" cy="1377.8" r="20.65"/>
<circle cx="1417.47" cy="1373.16" r="20.65"/>
<circle cx="1430.28" cy="1367.89" r="20.65"/>
<circle cx="1443.09" cy="1362.73" r="20.65"/>
<circle cx="1455.9" cy="1357.05" r="20.65"/>
<circle cx="1468.71" cy="1350.42" r="20.65"/>
<circle cx="1481.52" cy="1343.21" r="20.65"/>
<circle cx="1494.33" cy="1335.82" r="20.65"/>
<circle cx="1507.14" cy="1327.91" r="20.65"/>
<circle cx="1519.95" cy="1319.21" r="20.65"/>
<circle cx="1532.76" cy="1309.69" r="20.65"/>
<circle cx="1545.57" cy="1299.04" r="20.65"/>
<circle cx="1558.38" cy="1287.66" r="20.65"/>
<circle cx="1571.19" cy="1276.49" r="20.65"/>
<circle cx="1584" cy="1264" r="20.65"/>
<circle cx="1782.75" cy="1063.2" r="20.65"/>
<circle cx="1795.56" cy="1060.9" r="20.65"/>
<circle cx="1808.37" cy="1063.2" r="20.65"/>
<circle cx="1821.18" cy="1072.4" r="20.65"/>
<circle cx="1833.99" cy="1086.1" r="20.65"/>
<circle cx="1846.8" cy="1104.5" r="20.65"/>
<circle cx="1859.61" cy="1127.5" r="20.65"/>
<circle cx="1872.42" cy="1148.1" r="20.65"/>
<circle cx="1885.23" cy="1169.7" r="20.65"/>
</g>
<path d="M294.07 1400L301.08 1400L308.09 1400L315.1 1400L322.24 1400L329.81 1400L337.83 1400L346.32 1400L355.29 1400L364.75 1400L374.71 1400L385.17 1400L396.13 1399.99L407.59 1399.99L419.52 1399.99L431.88 1399.99L444.6 1399.99L457.41 1399.98L470.22 1399.98L483.03 1399.97L495.84 1399.97L508.65 1399.96L521.46 1399.96L534.27 1399.95L547.08 1399.95L559.89 1399.94L572.7 1399.93L585.51 1399.92L598.32 1399.91L611.13 1399.91L623.94 1399.9L636.75 1399.89L649.56 1399.87L662.37 1399.86L675.18 1399.85L687.99 1399.84L700.8 1399.82L713.61 1399.81L726.42 1399.8L739.23 1399.78L752.04 1399.76L764.85 1399.75L777.66 1399.73L790.47 1399.71L803.28 1399.69L816.09 1399.67L828.9 1399.65L841.71 1399.63L854.52 1399.61L867.33 1399.58L880.14 1399.56L892.95 1399.53L905.76 1399.51L918.57 1399.48L931.38 1399.45L944.19 1399.43L957 1399.4L969.81 1399.37L982.62 1399.33L995.43 1399.3L1008.24 1399.27L1021.05 1399.23L1033.86 1399.2L1046.67 1399.16L1059.48 1399.13L1072.29 1399.09L1085.1 1399.05L1097.91 1399.01L1110.72 1398.92L1123.53 1398.71L1136.34 1398.4L1149.15 1397.99L1161.96 1397.5L1174.77 1396.93L1187.58 1396.32L1200.39 1395.65L1213.2 1394.96L1226.01 1394.08L1238.82 1392.91L1251.63 1391.55L1264.44 1390.06L1277.25 1388.53L1290.06 1386.93L1302.87 1385.19L1315.68 1383.28L1328.49 1381.14L1341.3 1378.74L1354.11 1375.97L1366.92 1372.77L1379.73 1369.18L1392.54 1365.24L1405.35 1360.98L1418.16 1356.43L1430.97 1351.62L1443.78 1345.68L1456.59 1337.86L1469.4 1331.04L1482.21 1323.39L1495.02 1314.49L1507.83 1305.45L1520.64 1295.17L1533.45 1284.11L1546.26 1273.19L1559.07 1261.73L1571.88 1251.23L1584.69 1239.78L1597.5 1228.2L1600.5 1225.32L1603.5 1222.39L1606.5 1219.42L1609.5 1216.41L1612.5 1213.36L1615.5 1210.28L1618.5 1207.17L1621.5 1204.04L1624.5 1200.89L1627.5 1197.73L1630.5 1194.56L1633.5 1191.38L1636.5 1188.2L1639.5 1185.03L1642.5 1181.86L1645.5 1178.7L1648.5 1175.56M1693.5 1125.31L1696.5 1121.58L1699.5 1117.79L1702.5 1113.95L1705.5 1110.08L1708.5 1106.19L1711.5 1102.29L1714.5 1098.4L1717.5 1094.52L1720.5 1090.68L1723.5 1086.88L1726.5 1083.13L1729.5 1079.43L1732.5 1075.76L1735.5 1072.12L1738.5 1068.49L1741.5 1064.88L1744.5 1061.28L1747.5 1057.67L1750.5 1054.06L1753.5 1050.43L1756.5 1046.79L1759.5 1043.11L1762.5 1039.15L1765.5 1034.97L1768.5 1031.52L1771.5 1029.28L1774.5 1027.28L1777.5 1025.66L1780.5 1024.68L1783.5 1024.5L1786.5 1024.5L1789.5 1024.5L1792.5 1024.5L1795.5 1024.51L1798.5 1025.14L1801.5 1026.54L1804.5 1028.4L1807.5 1030.42L1810.5 1032.61L1813.5 1035.36L1816.5 1038.56L1819.5 1042.14L1822.5 1046.1L1825.5 1050.83L1828.5 1056.14L1831 1060.84M1836 1070.68L1837.5 1073.82L1840.5 1080.45L1843.5 1087.12L1843.93 1088.03M1849 1098.45L1849.5 1099.44L1852.5 1105.2L1855.5 1110.93L1856.5 1112.9M1861.5 1123.13L1864.5 1129.77L1867.5 1136.43L1869.64 1140.97M1874.7 1150.6L1876.5 1153.71L1879.5 1158.66L1881.9 1162.66M1887.5 1172.76L1888.5 1174.64L1891.5 1180.47L1895 1187.5" fill="none" stroke="#0000ff" stroke-width="5.4" stroke-linecap="round" stroke-linejoin="round"/>
<g fill="none" stroke="#0000ff" stroke-width="3" stroke-linejoin="miter">
<path d="M294.07 1372.2L318.14 1413.9L269.99 1413.9Z"/>
<path d="M301.08 1372.2L325.15 1413.9L277 1413.9Z"/>
<path d="M308.09 1372.2L332.16 1413.9L284.01 1413.9Z"/>
<path d="M315.1 1372.2L339.17 1413.9L291.02 1413.9Z"/>
<path d="M322.24 1372.2L346.31 1413.9L298.16 1413.9Z"/>
<path d="M329.81 1372.2L353.89 1413.9L305.74 1413.9Z"/>
<path d="M337.83 1372.2L361.91 1413.9L313.76 1413.9Z"/>
<path d="M346.32 1372.2L370.4 1413.9L322.25 1413.9Z"/>
<path d="M355.29 1372.2L379.36 1413.9L331.21 1413.9Z"/>
<path d="M364.75 1372.2L388.82 1413.9L340.67 1413.9Z"/>
<path d="M374.71 1372.2L398.78 1413.9L350.63 1413.9Z"/>
<path d="M385.17 1372.2L409.24 1413.9L361.09 1413.9Z"/>
<path d="M396.13 1372.19L420.21 1413.89L372.06 1413.89Z"/>
<path d="M407.59 1372.19L431.67 1413.89L383.51 1413.89Z"/>
<path d="M419.52 1372.19L443.6 1413.89L395.44 1413.89Z"/>
<path d="M431.88 1372.19L455.96 1413.89L407.81 1413.89Z"/>
<path d="M444.6 1372.19L468.68 1413.89L420.52 1413.89Z"/>
<path d="M457.41 1372.18L481.49 1413.88L433.33 1413.88Z"/>
<path d="M470.22 1372.18L494.3 1413.88L446.14 1413.88Z"/>
<path d="M483.03 1372.17L507.11 1413.87L458.95 1413.87Z"/>
<path d="M495.84 1372.17L519.92 1413.87L471.76 1413.87Z"/>
<path d="M508.65 1372.16L532.73 1413.86L484.57 1413.86Z"/>
<path d="M521.46 1372.16L545.54 1413.86L497.38 1413.86Z"/>
<path d="M534.27 1372.15L558.35 1413.85L510.19 1413.85Z"/>
<path d="M547.08 1372.15L571.16 1413.85L523 1413.85Z"/>
<path d="M559.89 1372.14L583.97 1413.84L535.81 1413.84Z"/>
<path d="M572.7 1372.13L596.78 1413.83L548.62 1413.83Z"/>
<path d="M585.51 1372.12L609.59 1413.82L561.43 1413.82Z"/>
<path d="M598.32 1372.11L622.4 1413.81L574.24 1413.81Z"/>
<path d="M611.13 1372.11L635.21 1413.81L587.05 1413.81Z"/>
<path d="M623.94 1372.1L648.02 1413.8L599.86 1413.8Z"/>
<path d="M636.75 1372.09L660.83 1413.79L612.67 1413.79Z"/>
<path d="M649.56 1372.07L673.64 1413.77L625.48 1413.77Z"/>
<path d="M662.37 1372.06L686.45 1413.76L638.29 1413.76Z"/>
<path d="M675.18 1372.05L699.26 1413.75L651.1 1413.75Z"/>
<path d="M687.99 1372.04L712.07 1413.74L663.91 1413.74Z"/>
<path d="M700.8 1372.02L724.88 1413.72L676.72 1413.72Z"/>
<path d="M713.61 1372.01L737.69 1413.71L689.53 1413.71Z"/>
<path d="M726.42 1372L750.5 1413.7L702.34 1413.7Z"/>
<path d="M739.23 1371.98L763.31 1413.68L715.15 1413.68Z"/>
<path d="M752.04 1371.96L776.12 1413.66L727.96 1413.66Z"/>
<path d="M764.85 1371.95L788.93 1413.65L740.77 1413.65Z"/>
<path d="M777.66 1371.93L801.74 1413.63L753.58 1413.63Z"/>
<path d="M790.47 1371.91L814.55 1413.61L766.39 1413.61Z"/>
<path d="M803.28 1371.89L827.36 1413.59L779.2 1413.59Z"/>
<path d="M816.09 1371.87L840.17 1413.57L792.01 1413.57Z"/>
<path d="M828.9 1371.85L852.98 1413.55L804.82 1413.55Z"/>
<path d="M841.71 1371.83L865.79 1413.53L817.63 1413.53Z"/>
<path d="M854.52 1371.81L878.6 1413.51L830.44 1413.51Z"/>
<path d="M867.33 1371.78L891.41 1413.48L843.25 1413.48Z"/>
<path d="M880.14 1371.76L904.22 1413.46L856.06 1413.46Z"/>
<path d="M892.95 1371.73L917.03 1413.43L868.87 1413.43Z"/>
<path d="M905.76 1371.71L929.84 1413.41L881.68 1413.41Z"/>
<path d="M918.57 1371.68L942.65 1413.38L894.49 1413.38Z"/>
<path d="M931.38 1371.65L955.46 1413.35L907.3 1413.35Z"/>
<path d="M944.19 1371.63L968.27 1413.33L920.11 1413.33Z"/>
<path d="M957 1371.6L981.08 1413.3L932.92 1413.3Z"/>
<path d="M969.81 1371.57L993.89 1413.27L945.73 1413.27Z"/>
<path d="M982.62 1371.53L1006.7 1413.23L958.54 1413.23Z"/>
<path d="M995.43 1371.5L1019.51 1413.2L971.35 1413.2Z"/>
<path d="M1008.24 1371.47L1032.32 1413.17L984.16 1413.17Z"/>
<path d="M1021.05 1371.43L1045.13 1413.13L996.97 1413.13Z"/>
<path d="M1033.86 1371.4L1057.94 1413.1L1009.78 1413.1Z"/>
<path d="M1046.67 1371.36L1070.75 1413.06L1022.59 1413.06Z"/>
<path d="M1059.48 1371.33L1083.56 1413.03L1035.4 1413.03Z"/>
<path d="M1072.29 1371.29L1096.37 1412.99L1048.21 1412.99Z"/>
<path d="M1085.1 1371.25L1109.18 1412.95L1061.02 1412.95Z"/>
<path d="M1097.91 1371.21L1121.99 1412.91L1073.83 1412.91Z"/>
<path d="M1110.72 1371.12L1134.8 1412.82L1086.64 1412.82Z"/>
<path d="M1123.53 1370.91L1147.61 1412.61L1099.45 1412.61Z"/>
<path d="M1136.34 1370.6L1160.42 1412.3L1112.26 1412.3Z"/>
<path d="M1149.15 1370.19L1173.23 1411.89L1125.07 1411.89Z"/>
<path d="M1161.96 1369.7L1186.04 1411.4L1137.88 1411.4Z"/>
<path d="M1174.77 1369.13L1198.85 1410.83L1150.69 1410.83Z"/>
<path d="M1187.58 1368.52L1211.66 1410.22L1163.5 1410.22Z"/>
<path d="M1200.39 1367.85L1224.47 1409.55L1176.31 1409.55Z"/>
<path d="M1213.2 1367.16L1237.28 1408.86L1189.12 1408.86Z"/>
<path d="M1226.01 1366.28L1250.09 1407.98L1201.93 1407.98Z"/>
<path d="M1238.82 1365.11L1262.9 1406.81L1214.74 1406.81Z"/>
<path d="M1251.63 1363.75L1275.71 1405.45L1227.55 1405.45Z"/>
<path d="M1264.44 1362.26L1288.52 1403.96L1240.36 1403.96Z"/>
<path d="M1277.25 1360.73L1301.33 1402.43L1253.17 1402.43Z"/>
<path d="M1290.06 1359.13L1314.14 1400.83L1265.98 1400.83Z"/>
<path d="M1302.87 1357.39L1326.95 1399.09L1278.79 1399.09Z"/>
<path d="M1315.68 1355.48L1339.76 1397.18L1291.6 1397.18Z"/>
<path d="M1328.49 1353.34L1352.57 1395.04L1304.41 1395.04Z"/>
<path d="M1341.3 1350.94L1365.38 1392.64L1317.22 1392.64Z"/>
<path d="M1354.11 1348.17L1378.19 1389.87L1330.03 1389.87Z"/>
<path d="M1366.92 1344.97L1391 1386.67L1342.84 1386.67Z"/>
<path d="M1379.73 1341.38L1403.81 1383.08L1355.65 1383.08Z"/>
<path d="M1392.54 1337.44L1416.62 1379.14L1368.46 1379.14Z"/>
<path d="M1405.35 1333.18L1429.43 1374.88L1381.27 1374.88Z"/>
<path d="M1418.16 1328.63L1442.24 1370.33L1394.08 1370.33Z"/>
<path d="M1430.97 1323.82L1455.05 1365.52L1406.89 1365.52Z"/>
<path d="M1443.78 1317.88L1467.86 1359.58L1419.7 1359.58Z"/>
<path d="M1456.59 1310.06L1480.67 1351.76L1432.51 1351.76Z"/>
<path d="M1469.4 1303.24L1493.48 1344.94L1445.32 1344.94Z"/>
<path d="M1482.21 1295.59L1506.29 1337.29L1458.13 1337.29Z"/>
<path d="M1495.02 1286.69L1519.1 1328.39L1470.94 1328.39Z"/>
<path d="M1507.83 1277.65L1531.91 1319.35L1483.75 1319.35Z"/>
<path d="M1520.64 1267.37L1544.72 1309.07L1496.56 1309.07Z"/>
<path d="M1533.45 1256.31L1557.53 1298.01L1509.37 1298.01Z"/>
<path d="M1546.26 1245.39L1570.34 1287.09L1522.18 1287.09Z"/>
<path d="M1559.07 1233.93L1583.15 1275.63L1534.99 1275.63Z"/>
<path d="M1571.88 1223.43L1595.96 1265.13L1547.8 1265.13Z"/>
<path d="M1584.69 1211.98L1608.77 1253.68L1560.61 1253.68Z"/>
<path d="M1597.5 1200.4L1621.58 1242.1L1573.42 1242.1Z"/>
<path d="M1672 1123.2L1696.08 1164.9L1647.92 1164.9Z"/>
<path d="M1769.5 1002.9L1793.58 1044.6L1745.42 1044.6Z"/>
<path d="M1782.31 996.7L1806.39 1038.4L1758.23 1038.4Z"/>
<path d="M1795.12 996.7L1819.2 1038.4L1771.04 1038.4Z"/>
<path d="M1807.93 1002.9L1832.01 1044.6L1783.85 1044.6Z"/>
<path d="M1820.74 1015.9L1844.82 1057.6L1796.66 1057.6Z"/>
<path d="M1833.55 1037.9L1857.63 1079.6L1809.47 1079.6Z"/>
<path d="M1846.36 1065.4L1870.44 1107.1L1822.28 1107.1Z"/>
<path d="M1859.17 1090.4L1883.25 1132.1L1835.09 1132.1Z"/>
<path d="M1871.98 1117.9L1896.06 1159.6L1847.9 1159.6Z"/>
<path d="M1884.79 1139.9L1908.87 1181.6L1860.71 1181.6Z"/>
</g>
<path d="M291.26 1424L298.27 1424L305.28 1424L312.29 1424L319.3 1424L326.69 1424L334.53 1423.99L342.83 1423.99L351.6 1423.97L360.86 1423.95L370.62 1423.93L380.87 1423.9L391.64 1423.86L402.9 1423.81L414.64 1423.76L426.83 1423.69L439.42 1423.62L452.23 1423.54L465.04 1423.45L477.85 1423.36L490.66 1423.26L503.47 1423.15L516.28 1423.04L529.09 1422.93L541.9 1422.8L554.71 1422.68L567.52 1422.55L580.33 1422.41L593.14 1422.27L605.95 1422.13L618.76 1421.98L631.57 1421.84L644.38 1421.68L657.19 1421.53L670 1421.37L682.81 1421.21L695.62 1421.05L708.43 1420.88L721.24 1420.67L734.05 1420.42L746.86 1420.14L759.67 1419.83L772.48 1419.5L785.29 1419.15L798.1 1418.78L810.91 1418.41L823.72 1418.04L836.53 1417.68L849.34 1417.32L862.15 1416.98L874.96 1416.65L887.77 1416.35L900.58 1416.08L913.39 1415.85L926.2 1415.65L939.01 1415.46L951.82 1415.29L964.63 1415.11L977.44 1414.91L990.25 1414.69L1003.06 1414.43L1015.87 1414.14L1028.68 1413.8L1041.49 1413.43L1054.3 1413.03L1067.11 1412.59L1079.92 1412.11L1092.73 1411.6L1105.54 1411.06L1118.35 1410.49L1131.16 1409.83L1143.97 1409.04L1156.78 1408.07L1169.59 1406.67L1182.4 1404.29L1195.21 1401.37L1208.02 1398.43L1220.83 1395.91L1233.64 1393.58L1246.45 1391.3L1259.26 1389.03L1272.07 1386.79L1284.88 1384.75L1297.69 1382.55L1310.5 1379.75L1313.5 1378.95L1316.5 1378.06L1319.5 1377.1L1322.5 1376.07L1325.5 1374.96L1328.5 1373.79L1331.5 1372.56L1334.5 1371.27L1337.5 1369.93L1340.5 1368.54L1343.5 1367.12L1346.5 1365.65L1349.5 1364.14L1352.5 1362.61L1355.5 1361.05L1358.5 1359.47L1361.5 1357.88L1364.5 1356.27L1367.5 1354.59L1370.5 1352.75L1373.5 1350.79L1376.5 1348.76L1379.5 1346.7L1382.5 1344.66L1385.5 1342.68L1388.5 1340.78L1391.5 1338.94L1394.5 1337.12L1397.5 1335.31L1400.5 1333.45L1403.5 1331.53L1406.5 1329.5L1409.5 1327.33L1412.5 1325L1415.5 1322.4L1418.5 1319.51L1421.5 1316.4L1424.5 1313.16L1427.5 1309.87L1430.5 1306.6L1433.5 1303.43L1436.5 1300.33L1439.5 1297.25L1442.5 1294.15L1445.5 1290.98L1448.5 1287.7L1451.5 1284.27L1454.5 1280.63L1457.5 1276.8L1460.5 1272.84L1463.5 1268.69L1466.5 1264.29L1469.5 1259.59L1472.5 1254.53L1475.5 1249.05L1478.5 1242.91L1481.5 1236.08L1484.5 1228.68L1487.5 1220.83L1490.5 1212.64L1493.5 1204.24L1496.5 1195.6L1499.5 1186.12L1502.5 1176.17L1505.5 1166.28L1508.5 1157.05L1511.5 1148.86L1514.5 1140.29L1517.5 1129.3L1520.5 1115.16L1523.5 1101.63L1526.5 1088.18L1529.5 1074.63L1532.5 1060.81L1535.5 1046.67L1538.5 1032.32L1541.5 1017.7L1544.5 1002.76L1547.5 987.4L1550.5 971.34L1553.5 954.89L1556.5 938.47L1559.5 922.51L1562.5 906.76L1565.5 891.16L1568.5 875.95L1571.5 861.43L1574.5 847.47L1577.5 833.72L1580.5 820.72L1583.5 808.98L1586.5 798.65L1589.5 788.62L1592.5 779.56L1595.5 772.39L1598.5 767.82L1601.5 764.17L1604.5 761.13L1607.5 759.08L1610.5 758.41L1613.5 759.81L1616.5 763.12L1619.5 767.61L1622.5 772.58L1625.5 778.26L1628.5 785.78L1631.5 794.55L1634.5 803.96L1637.5 813.64L1640.5 824.33L1643.5 835.86L1646.5 847.88L1649.5 860.09L1652.5 872.79L1655.5 885.98L1658.5 899.43L1661.5 912.9L1664.5 926.6L1667.5 940.61L1670.5 954.49L1673.5 967.83L1676.5 980.45L1679.5 992.61L1682.5 1004.33L1685 1013.75" fill="none" stroke="#000000" stroke-width="5.4" stroke-linecap="round" stroke-linejoin="round"/>
<g fill="#000000" stroke="none">
<rect x="271.56" y="1404.3" width="39.4" height="39.4"/>
<rect x="278.57" y="1404.3" width="39.4" height="39.4"/>
<rect x="285.58" y="1404.3" width="39.4" height="39.4"/>
<rect x="292.59" y="1404.3" width="39.4" height="39.4"/>
<rect x="299.6" y="1404.3" width="39.4" height="39.4"/>
<rect x="306.99" y="1404.3" width="39.4" height="39.4"/>
<rect x="314.83" y="1404.29" width="39.4" height="39.4"/>
<rect x="323.13" y="1404.29" width="39.4" height="39.4"/>
<rect x="331.9" y="1404.27" width="39.4" height="39.4"/>
<rect x="341.16" y="1404.25" width="39.4" height="39.4"/>
<rect x="350.92" y="1404.23" width="39.4" height="39.4"/>
<rect x="361.17" y="1404.2" width="39.4" height="39.4"/>
<rect x="371.94" y="1404.16" width="39.4" height="39.4"/>
<rect x="383.2" y="1404.11" width="39.4" height="39.4"/>
<rect x="394.94" y="1404.06" width="39.4" height="39.4"/>
<rect x="407.13" y="1403.99" width="39.4" height="39.4"/>
<rect x="419.72" y="1403.92" width="39.4" height="39.4"/>
<rect x="432.53" y="1403.84" width="39.4" height="39.4"/>
<rect x="445.34" y="1403.75" width="39.4" height="39.4"/>
<rect x="458.15" y="1403.66" width="39.4" height="39.4"/>
<rect x="470.96" y="1403.56" width="39.4" height="39.4"/>
<rect x="483.77" y="1403.45" width="39.4" height="39.4"/>
<rect x="496.58" y="1403.34" width="39.4" height="39.4"/>
<rect x="509.39" y="1403.23" width="39.4" height="39.4"/>
<rect x="522.2" y="1403.1" width="39.4" height="39.4"/>
<rect x="535.01" y="1402.98" width="39.4" height="39.4"/>
<rect x="547.82" y="1402.85" width="39.4" height="39.4"/>
<rect x="560.63" y="1402.71" width="39.4" height="39.4"/>
<rect x="573.44" y="1402.57" width="39.4" height="39.4"/>
<rect x="586.25" y="1402.43" width="39.4" height="39.4"/>
<rect x="599.06" y="1402.28" width="39.4" height="39.4"/>
<rect x="611.87" y="1402.14" width="39.4" height="39.4"/>
<rect x="624.68" y="1401.98" width="39.4" height="39.4"/>
<rect x="637.49" y="1401.83" width="39.4" height="39.4"/>
<rect x="650.3" y="1401.67" width="39.4" height="39.4"/>
<rect x="663.11" y="1401.51" width="39.4" height="39.4"/>
<rect x="675.92" y="1401.35" width="39.4" height="39.4"/>
<rect x="688.73" y="1401.18" width="39.4" height="39.4"/>
<rect x="701.54" y="1400.97" width="39.4" height="39.4"/>
<rect x="714.35" y="1400.72" width="39.4" height="39.4"/>
<rect x="727.16" y="1400.44" width="39.4" height="39.4"/>
<rect x="739.97" y="1400.13" width="39.4" height="39.4"/>
<rect x="752.78" y="1399.8" width="39.4" height="39.4"/>
<rect x="765.59" y="1399.45" width="39.4" height="39.4"/>
<rect x="778.4" y="1399.08" width="39.4" height="39.4"/>
<rect x="791.21" y="1398.71" width="39.4" height="39.4"/>
<rect x="804.02" y="1398.34" width="39.4" height="39.4"/>
<rect x="816.83" y="1397.98" width="39.4" height="39.4"/>
<rect x="829.64" y="1397.62" width="39.4" height="39.4"/>
<rect x="842.45" y="1397.28" width="39.4" height="39.4"/>
<rect x="855.26" y="1396.95" width="39.4" height="39.4"/>
<rect x="868.07" y="1396.65" width="39.4" height="39.4"/>
<rect x="880.88" y="1396.38" width="39.4" height="39.4"/>
<rect x="893.69" y="1396.15" width="39.4" height="39.4"/>
<rect x="906.5" y="1395.95" width="39.4" height="39.4"/>
<rect x="919.31" y="1395.76" width="39.4" height="39.4"/>
<rect x="932.12" y="1395.59" width="39.4" height="39.4"/>
<rect x="944.93" y="1395.41" width="39.4" height="39.4"/>
<rect x="957.74" y="1395.21" width="39.4" height="39.4"/>
<rect x="970.55" y="1394.99" width="39.4" height="39.4"/>
<rect x="983.36" y="1394.73" width="39.4" height="39.4"/>
<rect x="996.17" y="1394.44" width="39.4" height="39.4"/>
<rect x="1008.98" y="1394.1" width="39.4" height="39.4"/>
<rect x="1021.79" y="1393.73" width="39.4" height="39.4"/>
<rect x="1034.6" y="1393.33" width="39.4" height="39.4"/>
<rect x="1047.41" y="1392.89" width="39.4" height="39.4"/>
<rect x="1060.22" y="1392.41" width="39.4" height="39.4"/>
<rect x="1073.03" y="1391.9" width="39.4" height="39.4"/>
<rect x="1085.84" y="1391.36" width="39.4" height="39.4"/>
<rect x="1098.65" y="1390.79" width="39.4" height="39.4"/>
<rect x="1111.46" y="1390.13" width="39.4" height="39.4"/>
<rect x="1124.27" y="1389.34" width="39.4" height="39.4"/>
<rect x="1137.08" y="1388.37" width="39.4" height="39.4"/>
<rect x="1149.89" y="1386.97" width="39.4" height="39.4"/>
<rect x="1162.7" y="1384.59" width="39.4" height="39.4"/>
<rect x="1175.51" y="1381.67" width="39.4" height="39.4"/>
<rect x="1188.32" y="1378.73" width="39.4" height="39.4"/>
<rect x="1201.13" y="1376.21" width="39.4" height="39.4"/>
<rect x="1213.94" y="1373.88" width="39.4" height="39.4"/>
<rect x="1226.75" y="1371.6" width="39.4" height="39.4"/>
<rect x="1239.56" y="1369.33" width="39.4" height="39.4"/>
<rect x="1252.37" y="1367.09" width="39.4" height="39.4"/>
<rect x="1265.18" y="1365.05" width="39.4" height="39.4"/>
<rect x="1277.99" y="1362.85" width="39.4" height="39.4"/>
<rect x="1290.8" y="1360.05" width="39.4" height="39.4"/>
<rect x="1345.3" y="1336.3" width="39.4" height="39.4"/>
<rect x="1500.9" y="1095" width="39.4" height="39.4"/>
<rect x="1513.55" y="1037.6" width="39.4" height="39.4"/>
<rect x="1526.7" y="973.4" width="39.4" height="39.4"/>
<rect x="1539.4" y="904.9" width="39.4" height="39.4"/>
<rect x="1552.3" y="839.4" width="39.4" height="39.4"/>
<rect x="1565.05" y="784.9" width="39.4" height="39.4"/>
<rect x="1577.8" y="749.4" width="39.4" height="39.4"/>
<rect x="1590.55" y="738.7" width="39.4" height="39.4"/>
<rect x="1603.3" y="753.7" width="39.4" height="39.4"/>
<rect x="1616.2" y="788.7" width="39.4" height="39.4"/>
<rect x="1628.9" y="836.7" width="39.4" height="39.4"/>
<rect x="1641.8" y="893.2" width="39.4" height="39.4"/>
<rect x="1654.4" y="950.7" width="39.4" height="39.4"/>
</g>
<path d="M292.21 1387.75L299.22 1387.75L306.23 1387.75L313.24 1387.75L320.27 1387.75L327.72 1387.75L335.62 1387.75L343.98 1387.75L352.82 1387.75L362.14 1387.75L371.97 1387.75L382.29 1387.75L393.12 1387.75L404.45 1387.75L416.26 1387.75L428.51 1387.75L441.14 1387.75L453.95 1387.75L466.76 1387.75L479.57 1387.75L492.38 1387.75L505.19 1387.75L518 1387.75L530.81 1387.75L543.62 1387.75L556.43 1387.75L569.24 1387.75L582.05 1387.75L594.86 1387.75L607.67 1387.75L620.48 1387.75L633.29 1387.75L646.1 1387.75L658.91 1387.75L671.72 1387.75L684.53 1387.75L697.34 1387.75L710.15 1387.75L722.96 1387.75L735.77 1387.75L748.58 1387.75L761.39 1387.75L774.2 1387.75L787.01 1387.75L799.82 1387.75L812.63 1387.75L825.44 1387.75L838.25 1387.75L851.06 1387.75L863.87 1387.75L876.68 1387.75L889.49 1387.74L902.3 1387.69L915.11 1387.59L927.92 1387.46L940.73 1387.29L953.54 1387.09L966.35 1386.84L979.16 1386.56L991.97 1386.25L1004.78 1385.91L1017.59 1385.25L1030.4 1384.1L1043.21 1382.62L1056.02 1380.95L1068.83 1379.26L1081.64 1377.54L1094.45 1375.63L1107.26 1373.43L1120.07 1370.85L1132.88 1367.72L1145.69 1363.11L1158.5 1357.37L1171.31 1351.4L1184.12 1345.32L1196.93 1338.36L1209.74 1329.81L1222.55 1320.57L1235.36 1309.61L1248.17 1296.12L1260.98 1278.45L1273.79 1256.54L1286.6 1233.75L1289.6 1226.19L1292.6 1217.29L1295.6 1207.88L1298.6 1198.85L1301.6 1190.82L1304.6 1183.18L1307.6 1175.76L1310.6 1168.52L1313.6 1161.44L1316.6 1154.49L1319.6 1147.63L1322.6 1140.84L1325.6 1134.07L1328.6 1127.31L1331.6 1120.52L1334.6 1113.67L1337.6 1106.69L1340.6 1099.6L1343.6 1092.49L1346.6 1085.49L1349.6 1078.73L1352.6 1072.31L1355.6 1066.34L1358.6 1060.41L1361.6 1054.49L1364.6 1048.79L1367.6 1043.52L1370.6 1038.9L1373.6 1035.14L1376.6 1032.3L1379.6 1029.62L1382.6 1027.09L1385.6 1024.79L1388.6 1022.83L1391.6 1021.31L1394.6 1020.33L1397.6 1020L1400.6 1020.17L1403.6 1020.64L1406.6 1021.34L1409.6 1022.25L1412.6 1023.3L1415.6 1024.46L1418.6 1025.68L1421.6 1026.99L1424.6 1028.79L1427.6 1031L1430.6 1033.47L1433.6 1036.05L1436.6 1038.6L1439.6 1040.96L1440.6 1041.67M1484.6 1075.15L1487.6 1077.83L1490.6 1080.57L1493.6 1083.36L1496.6 1086.21L1499.6 1089.11L1502.6 1092.06L1505.6 1095.06L1508 1097.5" fill="none" stroke="#ff0000" stroke-width="5.4" stroke-linecap="round" stroke-linejoin="round"/>
<g fill="#ff0000" stroke="none">
<circle cx="292.21" cy="1387.75" r="22.15"/>
<circle cx="299.22" cy="1387.75" r="22.15"/>
<circle cx="306.23" cy="1387.75" r="22.15"/>
<circle cx="313.24" cy="1387.75" r="22.15"/>
<circle cx="320.27" cy="1387.75" r="22.15"/>
<circle cx="327.72" cy="1387.75" r="22.15"/>
<circle cx="335.62" cy="1387.75" r="22.15"/>
<circle cx="343.98" cy="1387.75" r="22.15"/>
<circle cx="352.82" cy="1387.75" r="22.15"/>
<circle cx="362.14" cy="1387.75" r="22.15"/>
<circle cx="371.97" cy="1387.75" r="22.15"/>
<circle cx="382.29" cy="1387.75" r="22.15"/>
<circle cx="393.12" cy="1387.75" r="22.15"/>
<circle cx="404.45" cy="1387.75" r="22.15"/>
<circle cx="416.26" cy="1387.75" r="22.15"/>
<circle cx="428.51" cy="1387.75" r="22.15"/>
<circle cx="441.14" cy="1387.75" r="22.15"/>
<circle cx="453.95" cy="1387.75" r="22.15"/>
<circle cx="466.76" cy="1387.75" r="22.15"/>
<circle cx="479.57" cy="1387.75" r="22.15"/>
<circle cx="492.38" cy="1387.75" r="22.15"/>
<circle cx="505.19" cy="1387.75" r="22.15"/>
<circle cx="518" cy="1387.75" r="22.15"/>
<circle cx="530.81" cy="1387.75" r="22.15"/>
<circle cx="543.62" cy="1387.75" r="22.15"/>
<circle cx="556.43" cy="1387.75" r="22.15"/>
<circle cx="569.24" cy="1387.75" r="22.15"/>
<circle cx="582.05" cy="1387.75" r="22.15"/>
<circle cx="594.86" cy="1387.75" r="22.15"/>
<circle cx="607.67" cy="1387.75" r="22.15"/>
<circle cx="620.48" cy="1387.75" r="22.15"/>
<circle cx="633.29" cy="1387.75" r="22.15"/>
<circle cx="646.1" cy="1387.75" r="22.15"/>
<circle cx="658.91" cy="1387.75" r="22.15"/>
<circle cx="671.72" cy="1387.75" r="22.15"/>
<circle cx="684.53" cy="1387.75" r="22.15"/>
<circle cx="697.34" cy="1387.75" r="22.15"/>
<circle cx="710.15" cy="1387.75" r="22.15"/>
<circle cx="722.96" cy="1387.75" r="22.15"/>
<circle cx="735.77" cy="1387.75" r="22.15"/>
<circle cx="748.58" cy="1387.75" r="22.15"/>
<circle cx="761.39" cy="1387.75" r="22.15"/>
<circle cx="774.2" cy="1387.75" r="22.15"/>
<circle cx="787.01" cy="1387.75" r="22.15"/>
<circle cx="799.82" cy="1387.75" r="22.15"/>
<circle cx="812.63" cy="1387.75" r="22.15"/>
<circle cx="825.44" cy="1387.75" r="22.15"/>
<circle cx="838.25" cy="1387.75" r="22.15"/>
<circle cx="851.06" cy="1387.75" r="22.15"/>
<circle cx="863.87" cy="1387.75" r="22.15"/>
<circle cx="876.68" cy="1387.75" r="22.15"/>
<circle cx="889.49" cy="1387.74" r="22.15"/>
<circle cx="902.3" cy="1387.69" r="22.15"/>
<circle cx="915.11" cy="1387.59" r="22.15"/>
<circle cx="927.92" cy="1387.46" r="22.15"/>
<circle cx="940.73" cy="1387.29" r="22.15"/>
<circle cx="953.54" cy="1387.09" r="22.15"/>
<circle cx="966.35" cy="1386.84" r="22.15"/>
<circle cx="979.16" cy="1386.56" r="22.15"/>
<circle cx="991.97" cy="1386.25" r="22.15"/>
<circle cx="1004.78" cy="1385.91" r="22.15"/>
<circle cx="1017.59" cy="1385.25" r="22.15"/>
<circle cx="1030.4" cy="1384.1" r="22.15"/>
<circle cx="1043.21" cy="1382.62" r="22.15"/>
<circle cx="1056.02" cy="1380.95" r="22.15"/>
<circle cx="1068.83" cy="1379.26" r="22.15"/>
<circle cx="1081.64" cy="1377.54" r="22.15"/>
<circle cx="1094.45" cy="1375.63" r="22.15"/>
<circle cx="1107.26" cy="1373.43" r="22.15"/>
<circle cx="1120.07" cy="1370.85" r="22.15"/>
<circle cx="1132.88" cy="1367.72" r="22.15"/>
<circle cx="1145.69" cy="1363.11" r="22.15"/>
<circle cx="1158.5" cy="1357.37" r="22.15"/>
<circle cx="1171.31" cy="1351.4" r="22.15"/>
<circle cx="1184.12" cy="1345.32" r="22.15"/>
<circle cx="1196.93" cy="1338.36" r="22.15"/>
<circle cx="1209.74" cy="1329.81" r="22.15"/>
<circle cx="1222.55" cy="1320.57" r="22.15"/>
<circle cx="1235.36" cy="1309.61" r="22.15"/>
<circle cx="1248.17" cy="1296.12" r="22.15"/>
<circle cx="1260.98" cy="1278.45" r="22.15"/>
<circle cx="1273.79" cy="1256.54" r="22.15"/>
<circle cx="1286.6" cy="1233.75" r="22.15"/>
<circle cx="1462.8" cy="1057.2" r="22.15"/>
</g>
<path d="M292.03 1379.5L299.04 1379.5L306.05 1379.5L313.06 1379.5L320.07 1379.5L327.51 1379.5L335.4 1379.5L343.75 1379.5L352.57 1379.5L361.88 1379.5L371.69 1379.5L382 1379.5L392.82 1379.5L404.13 1379.5L415.93 1379.5L428.17 1379.5L440.79 1379.5L453.6 1379.5L466.41 1379.5L479.22 1379.5L492.03 1379.5L504.84 1379.5L517.65 1379.5L530.46 1379.5L543.27 1379.5L556.08 1379.5L568.89 1379.5L581.7 1379.5L594.51 1379.5L607.32 1379.5L620.13 1379.5L632.94 1379.5L645.75 1379.5L658.56 1379.5L671.37 1379.54L684.18 1379.68L696.99 1379.91L709.8 1380.22L722.61 1380.58L735.42 1381L748.23 1381.44L761.04 1381.91L773.85 1382.39L786.66 1382.87L799.47 1383.33L812.28 1383.76L825.09 1384.14L837.9 1384.47L850.71 1384.73L863.52 1384.91L876.33 1385L889.14 1384.98L901.95 1384.88L914.76 1384.71L927.57 1384.47L940.38 1384.17L953.19 1383.82L966 1383.42L978.81 1382.98L991.62 1382.52L1004.43 1382.02L1017.24 1381.39L1030.05 1380.52L1042.86 1379.44L1055.67 1378.2L1068.48 1376.84L1081.29 1375.29L1094.1 1373.45L1106.91 1371.29L1119.72 1368.79L1132.53 1365.88L1145.34 1361.92L1158.15 1357L1170.96 1351.59L1183.77 1345.73L1196.58 1339.16L1209.39 1331.75L1222.2 1323.23L1235.01 1312.82L1247.82 1300.1L1260.63 1284.3L1273.44 1264.14L1286.25 1240.7L1289.25 1235.81L1292.25 1231.09L1295.25 1226.29L1298.25 1221.19L1301.25 1215.89L1304.25 1210.46L1307.25 1204.91L1310.25 1199.26L1313.25 1193.52L1316.25 1187.7L1319.25 1181.8L1322.25 1175.85L1325.25 1169.85L1328.25 1163.81L1331.25 1157.75L1334.25 1151.67L1337.25 1145.6L1340.25 1139.53L1343.25 1133.48L1346.25 1127.46L1349.25 1121.49L1352.25 1115.42L1355.25 1109.02L1358.25 1102.44L1361.25 1095.83L1364.25 1089.37L1367.25 1083.23L1370.25 1077.57L1373.25 1072.56L1376.25 1068.3L1379.25 1064.35L1382.25 1060.62L1385.25 1057.15L1388.25 1053.96L1391.25 1051.08L1394.25 1048.56L1397.25 1046.41L1400.25 1044.57L1403.25 1042.9L1406.25 1041.38L1409.25 1040L1412.25 1038.74L1415.25 1037.6L1418.25 1036.56L1421.25 1035.61L1424.25 1034.69L1427.25 1033.82L1430.25 1033L1433.25 1032.26L1436.25 1031.61L1439.25 1031.06L1442.25 1030.63M1482.25 1037.01L1484.25 1038.28L1487.25 1040.5L1490.25 1043.6L1493.25 1047.11L1496.25 1050.49L1499.25 1053.23L1502.25 1055.04L1505.25 1056.4L1508.25 1057.63L1511.25 1059.01L1514.25 1060.8L1517.25 1062.9L1520.25 1065.25L1523.25 1067.85L1526.25 1070.69L1529.25 1073.77L1532.25 1077.08L1535.25 1080.61L1538.75 1085" fill="none" stroke="#0000ff" stroke-width="5.4" stroke-linecap="round" stroke-linejoin="round"/>
<g fill="#0000ff" stroke="#0000ff" stroke-width="2.2" stroke-linejoin="round">
<path d="M292.03 1355.9L316.8 1398.8L267.26 1398.8Z"/>
<path d="M299.04 1355.9L323.81 1398.8L274.27 1398.8Z"/>
<path d="M306.05 1355.9L330.82 1398.8L281.28 1398.8Z"/>
<path d="M313.06 1355.9L337.83 1398.8L288.29 1398.8Z"/>
<path d="M320.07 1355.9L344.84 1398.8L295.3 1398.8Z"/>
<path d="M327.51 1355.9L352.28 1398.8L302.74 1398.8Z"/>
<path d="M335.4 1355.9L360.17 1398.8L310.63 1398.8Z"/>
<path d="M343.75 1355.9L368.52 1398.8L318.98 1398.8Z"/>
<path d="M352.57 1355.9L377.34 1398.8L327.8 1398.8Z"/>
<path d="M361.88 1355.9L386.65 1398.8L337.11 1398.8Z"/>
<path d="M371.69 1355.9L396.46 1398.8L346.92 1398.8Z"/>
<path d="M382 1355.9L406.77 1398.8L357.24 1398.8Z"/>
<path d="M392.82 1355.9L417.59 1398.8L368.05 1398.8Z"/>
<path d="M404.13 1355.9L428.9 1398.8L379.37 1398.8Z"/>
<path d="M415.93 1355.9L440.69 1398.8L391.16 1398.8Z"/>
<path d="M428.17 1355.9L452.93 1398.8L403.4 1398.8Z"/>
<path d="M440.79 1355.9L465.56 1398.8L416.02 1398.8Z"/>
<path d="M453.6 1355.9L478.37 1398.8L428.83 1398.8Z"/>
<path d="M466.41 1355.9L491.18 1398.8L441.64 1398.8Z"/>
<path d="M479.22 1355.9L503.99 1398.8L454.45 1398.8Z"/>
<path d="M492.03 1355.9L516.8 1398.8L467.26 1398.8Z"/>
<path d="M504.84 1355.9L529.61 1398.8L480.07 1398.8Z"/>
<path d="M517.65 1355.9L542.42 1398.8L492.88 1398.8Z"/>
<path d="M530.46 1355.9L555.23 1398.8L505.69 1398.8Z"/>
<path d="M543.27 1355.9L568.04 1398.8L518.5 1398.8Z"/>
<path d="M556.08 1355.9L580.85 1398.8L531.31 1398.8Z"/>
<path d="M568.89 1355.9L593.66 1398.8L544.12 1398.8Z"/>
<path d="M581.7 1355.9L606.47 1398.8L556.93 1398.8Z"/>
<path d="M594.51 1355.9L619.28 1398.8L569.74 1398.8Z"/>
<path d="M607.32 1355.9L632.09 1398.8L582.55 1398.8Z"/>
<path d="M620.13 1355.9L644.9 1398.8L595.36 1398.8Z"/>
<path d="M632.94 1355.9L657.71 1398.8L608.17 1398.8Z"/>
<path d="M645.75 1355.9L670.52 1398.8L620.98 1398.8Z"/>
<path d="M658.56 1355.9L683.33 1398.8L633.79 1398.8Z"/>
<path d="M671.37 1355.94L696.14 1398.84L646.6 1398.84Z"/>
<path d="M684.18 1356.08L708.95 1398.98L659.41 1398.98Z"/>
<path d="M696.99 1356.31L721.76 1399.21L672.22 1399.21Z"/>
<path d="M709.8 1356.62L734.57 1399.52L685.03 1399.52Z"/>
<path d="M722.61 1356.98L747.38 1399.88L697.84 1399.88Z"/>
<path d="M735.42 1357.4L760.19 1400.3L710.65 1400.3Z"/>
<path d="M748.23 1357.84L773 1400.74L723.46 1400.74Z"/>
<path d="M761.04 1358.31L785.81 1401.21L736.27 1401.21Z"/>
<path d="M773.85 1358.79L798.62 1401.69L749.08 1401.69Z"/>
<path d="M786.66 1359.27L811.43 1402.17L761.89 1402.17Z"/>
<path d="M799.47 1359.73L824.24 1402.63L774.7 1402.63Z"/>
<path d="M812.28 1360.16L837.05 1403.06L787.51 1403.06Z"/>
<path d="M825.09 1360.54L849.86 1403.44L800.32 1403.44Z"/>
<path d="M837.9 1360.87L862.67 1403.77L813.13 1403.77Z"/>
<path d="M850.71 1361.13L875.48 1404.03L825.94 1404.03Z"/>
<path d="M863.52 1361.31L888.29 1404.21L838.75 1404.21Z"/>
<path d="M876.33 1361.4L901.1 1404.3L851.56 1404.3Z"/>
<path d="M889.14 1361.38L913.91 1404.28L864.37 1404.28Z"/>
<path d="M901.95 1361.28L926.72 1404.18L877.18 1404.18Z"/>
<path d="M914.76 1361.11L939.53 1404.01L889.99 1404.01Z"/>
<path d="M927.57 1360.87L952.34 1403.77L902.8 1403.77Z"/>
<path d="M940.38 1360.57L965.15 1403.47L915.61 1403.47Z"/>
<path d="M953.19 1360.22L977.96 1403.12L928.42 1403.12Z"/>
<path d="M966 1359.82L990.77 1402.72L941.23 1402.72Z"/>
<path d="M978.81 1359.38L1003.58 1402.28L954.04 1402.28Z"/>
<path d="M991.62 1358.92L1016.39 1401.82L966.85 1401.82Z"/>
<path d="M1004.43 1358.42L1029.2 1401.32L979.66 1401.32Z"/>
<path d="M1017.24 1357.79L1042.01 1400.69L992.47 1400.69Z"/>
<path d="M1030.05 1356.92L1054.82 1399.82L1005.28 1399.82Z"/>
<path d="M1042.86 1355.84L1067.63 1398.74L1018.09 1398.74Z"/>
<path d="M1055.67 1354.6L1080.44 1397.5L1030.9 1397.5Z"/>
<path d="M1068.48 1353.24L1093.25 1396.14L1043.71 1396.14Z"/>
<path d="M1081.29 1351.69L1106.06 1394.59L1056.52 1394.59Z"/>
<path d="M1094.1 1349.85L1118.87 1392.75L1069.33 1392.75Z"/>
<path d="M1106.91 1347.69L1131.68 1390.59L1082.14 1390.59Z"/>
<path d="M1119.72 1345.19L1144.49 1388.09L1094.95 1388.09Z"/>
<path d="M1132.53 1342.28L1157.3 1385.18L1107.76 1385.18Z"/>
<path d="M1145.34 1338.32L1170.11 1381.22L1120.57 1381.22Z"/>
<path d="M1158.15 1333.4L1182.92 1376.3L1133.38 1376.3Z"/>
<path d="M1170.96 1327.99L1195.73 1370.89L1146.19 1370.89Z"/>
<path d="M1183.77 1322.13L1208.54 1365.03L1159 1365.03Z"/>
<path d="M1196.58 1315.56L1221.35 1358.46L1171.81 1358.46Z"/>
<path d="M1209.39 1308.15L1234.16 1351.05L1184.62 1351.05Z"/>
<path d="M1222.2 1299.63L1246.97 1342.53L1197.43 1342.53Z"/>
<path d="M1235.01 1289.22L1259.78 1332.12L1210.24 1332.12Z"/>
<path d="M1247.82 1276.5L1272.59 1319.4L1223.05 1319.4Z"/>
<path d="M1260.63 1260.7L1285.4 1303.6L1235.86 1303.6Z"/>
<path d="M1273.44 1240.18L1298.21 1283.08L1248.67 1283.08Z"/>
<path d="M1286.25 1217.1L1311.02 1260L1261.48 1260Z"/>
<path d="M1463.1 1005.2L1487.87 1048.1L1438.33 1048.1Z"/>
<path d="M1513.1 1035.85L1537.87 1078.75L1488.33 1078.75Z"/>
<path d="M1526.25 1049L1551.02 1091.9L1501.48 1091.9Z"/>
<path d="M1538.75 1061.5L1563.52 1104.4L1513.98 1104.4Z"/>
</g>
</g>
<g fill="#000" stroke="#000" stroke-linejoin="round">
<path d="M577 100.9L440 103.5" stroke-width="10.4" fill="none"/>
<path d="M384.5 103.6L437 89.2L437 117.6Z" stroke-width="6"/>
<path d="M411.8 1312L541 1312" stroke-width="10" fill="none"/>
<path d="M597 1312L543 1298.3L543 1325.7Z" stroke-width="6"/>
</g>
<g font-family="'Liberation Sans', Arial, sans-serif" font-weight="bold" style="font-kerning:none" text-rendering="geometricPrecision" fill="#000" font-size="71.5">
<text transform="translate(167 88.6) scale(1 1.04)">10</text>
<text transform="translate(247 59.3) scale(1 1.04)" font-size="49.5">4</text>
<text transform="translate(167 285.41) scale(1 1.04)">10</text>
<text transform="translate(247 256.11) scale(1 1.04)" font-size="49.5">3</text>
<text transform="translate(167 482.21) scale(1 1.04)">10</text>
<text transform="translate(247 452.91) scale(1 1.04)" font-size="49.5">2</text>
<text transform="translate(167 679.02) scale(1 1.04)">10</text>
<text transform="translate(247 649.72) scale(1 1.04)" font-size="49.5">1</text>
<text transform="translate(167 875.83) scale(1 1.04)">10</text>
<text transform="translate(247 846.53) scale(1 1.04)" font-size="49.5">0</text>
<text transform="translate(150.5 1072.64) scale(1 1.04)">10</text>
<text transform="translate(231.5 1045.84) scale(0.785 1)" font-size="49.5">−</text>
<text transform="translate(256.5 1043.34) scale(1 1.04)" font-size="49.5">1</text>
<text transform="translate(150.5 1269.44) scale(1 1.04)">10</text>
<text transform="translate(231.5 1242.64) scale(0.785 1)" font-size="49.5">−</text>
<text transform="translate(256.5 1240.14) scale(1 1.04)" font-size="49.5">2</text>
<text transform="translate(150.5 1466.25) scale(1 1.04)">10</text>
<text transform="translate(231.5 1439.45) scale(0.785 1)" font-size="49.5">−</text>
<text transform="translate(256.5 1436.95) scale(1 1.04)" font-size="49.5">3</text>
<text transform="translate(319.7 1542) scale(1 1.04)" text-anchor="middle">250</text>
<text transform="translate(746.71 1542) scale(1 1.04)" text-anchor="middle">300</text>
<text transform="translate(1173.72 1542) scale(1 1.04)" text-anchor="middle">350</text>
<text transform="translate(1600.74 1542) scale(1 1.04)" text-anchor="middle">400</text>
<text transform="translate(2027.75 1542) scale(1 1.04)" text-anchor="middle">450</text>
<text transform="translate(2072.5 1460.65) scale(1 1.04)">0.0</text>
<text transform="translate(2072.5 1368.8) scale(1 1.04)">0.2</text>
<text transform="translate(2072.5 1276.95) scale(1 1.04)">0.4</text>
<text transform="translate(2072.5 1185.1) scale(1 1.04)">0.6</text>
<text transform="translate(2072.5 1093.25) scale(1 1.04)">0.8</text>
<text transform="translate(2072.5 1001.4) scale(1 1.04)">1.0</text>
<text transform="translate(2072.5 909.55) scale(1 1.04)">1.2</text>
<text transform="translate(2072.5 817.7) scale(1 1.04)">1.4</text>
<text transform="translate(2072.5 725.85) scale(1 1.04)">1.6</text>
<text transform="translate(2072.5 634) scale(1 1.04)">1.8</text>
<text transform="translate(525.3 526.8) scale(1 1.04)" font-size="71.65">FLPI-1 (FDAn-FDAADA)</text>
<text transform="translate(525.3 617.25) scale(1 1.04)" font-size="71.65">FLPI-2 (FDAn-ABTFMB)</text>
<text transform="translate(525.3 707.7) scale(1 1.04)" font-size="71.65">FLPI-3 (FDAn-MABTFMB)</text>
<text transform="translate(525.3 798.15) scale(1 1.04)" font-size="71.65">PI-ref-1 (6FDA-FDAADA)</text>
<text transform="translate(525.3 888.6) scale(1 1.04)" font-size="71.65">PI-ref-2 (6FDA-ABTFMB)</text>
<text transform="translate(525.3 979.05) scale(1 1.04)" font-size="71.65">PI-ref-3 (6FDA-MABTFMB)</text>
</g>
<g font-family="'Liberation Sans', Arial, sans-serif" font-weight="bold" style="font-kerning:none" text-rendering="geometricPrecision" fill="#000" font-size="84.5">
<text transform="translate(99 751) rotate(-90) scale(1 1.02)" text-anchor="middle">Storage modulus (MPa)</text>
<text transform="translate(2328.5 933.5) rotate(-90) scale(1 1.02)" text-anchor="middle">tan δ</text>
<text transform="translate(835 1675) scale(1 1.02)">Temperature (</text>
<text x="1402.5" y="1675" font-family="'Noto Serif CJK SC', 'Noto Sans CJK SC', serif" font-weight="400" font-size="80">℃</text>
<text transform="translate(1484 1675) scale(1 1.02)">)</text>
</g>
<path d="M366.8 502.5L525 502.5" stroke="#000000" stroke-width="5.4" stroke-linecap="round" fill="none"/>
<g fill="none" stroke="#000000" stroke-width="3" stroke-linejoin="miter"><rect x="427.6" y="484.3" width="36.4" height="36.4"/></g>
<path d="M366.8 592.95L525 592.95" stroke="#ff0000" stroke-width="5.4" stroke-linecap="round" fill="none"/>
<g fill="none" stroke="#ff0000" stroke-width="3" stroke-linejoin="miter"><circle cx="445.8" cy="592.95" r="20.65"/></g>
<path d="M366.8 683.4L525 683.4" stroke="#0000ff" stroke-width="5.4" stroke-linecap="round" fill="none"/>
<g fill="none" stroke="#0000ff" stroke-width="3" stroke-linejoin="miter"><path d="M445.8 655.6L469.88 697.3L421.72 697.3Z"/></g>
<path d="M366.8 773.85L525 773.85" stroke="#000000" stroke-width="5.4" stroke-linecap="round" fill="none"/>
<g fill="#000000" stroke="none"><rect x="426.1" y="754.15" width="39.4" height="39.4"/></g>
<path d="M366.8 864.3L525 864.3" stroke="#ff0000" stroke-width="5.4" stroke-linecap="round" fill="none"/>
<g fill="#ff0000" stroke="none"><circle cx="445.8" cy="864.3" r="22.15"/></g>
<path d="M366.8 954.75L525 954.75" stroke="#0000ff" stroke-width="5.4" stroke-linecap="round" fill="none"/>
<g fill="#0000ff" stroke="#0000ff" stroke-width="2.2" stroke-linejoin="round"><path d="M445.8 926.15L470.57 969.05L421.03 969.05Z"/></g>
</svg>
</body>
</html>
